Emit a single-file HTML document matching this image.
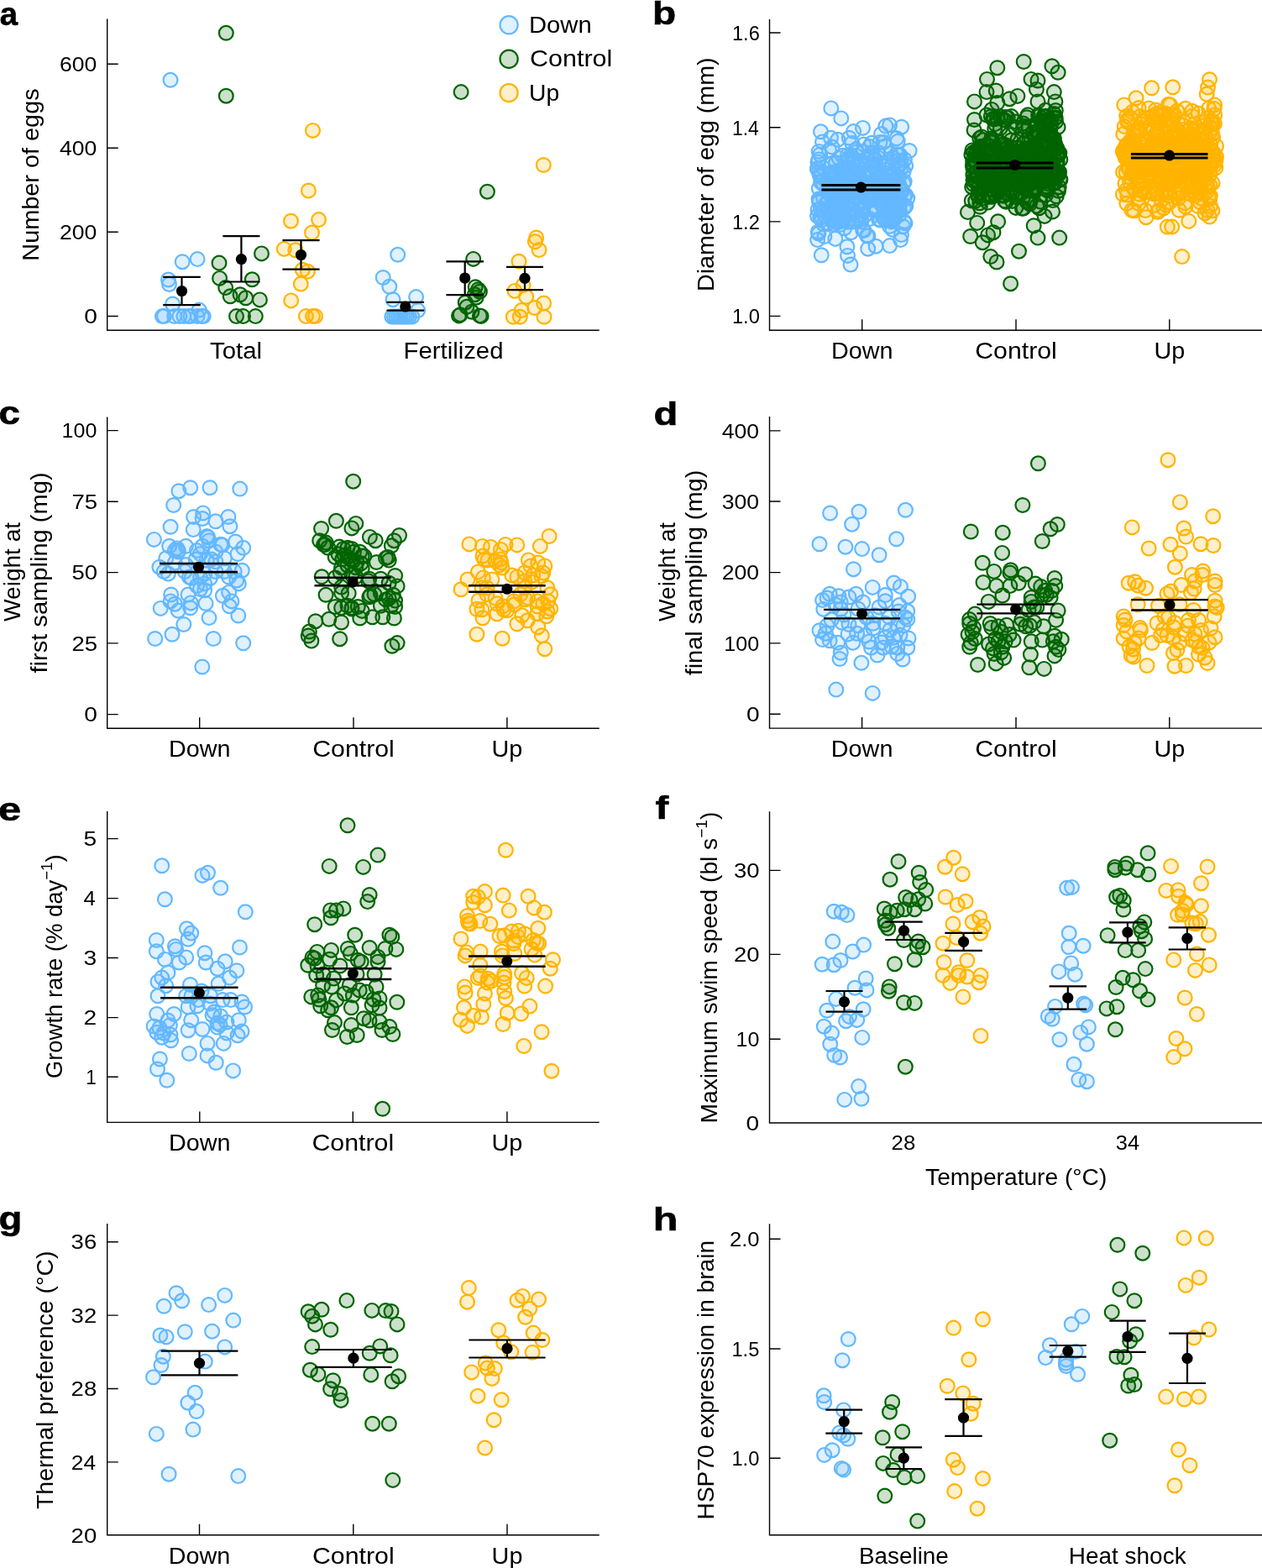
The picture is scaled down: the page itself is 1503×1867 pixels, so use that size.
<!DOCTYPE html><html><head><meta charset="utf-8"><title>Figure</title><style>
html,body{margin:0;padding:0;background:#fff;}svg{display:block;}
text{font-family:"Liberation Sans", Arial, sans-serif;fill:#000;}
.tk{font-size:24px;text-anchor:end;}
.xl{font-size:28px;text-anchor:middle;}
.xt{font-size:24px;text-anchor:middle;}
.yt{font-size:28px;text-anchor:middle;}
.pl{font-size:39px;font-weight:bold;stroke:#000;stroke-width:0.6px;}
.lg{font-size:27px;}
.ax{stroke:#000;stroke-width:1.4;fill:none;}
circle{stroke-width:2.2;}
.D circle{stroke:#63B8FF;fill:#63B8FF;fill-opacity:0.2;}
.C circle{stroke:#006400;fill:#006400;fill-opacity:0.2;}
.U circle{stroke:#FFB400;fill:#FFB400;fill-opacity:0.2;}
</style></head><body>
<svg width="1503" height="1867" viewBox="0 0 1503 1867">
<rect width="1503" height="1867" fill="#fff"/>
<text class="pl" transform="translate(-0.3 29.5) scale(0.981 1)">a</text>
<path class="ax" d="M127.7 22.4V393.2H713.7M127.7 376.5H140.7M127.7 276.3H140.7M127.7 176.3H140.7M127.7 76.2H140.7"/>
<text class="tk" transform="translate(115.8 385.2) scale(1.173 1)">0</text>
<text class="tk" transform="translate(115.3 285) scale(1.108 1)">200</text>
<text class="tk" transform="translate(115.3 185) scale(1.108 1)">400</text>
<text class="tk" transform="translate(115.3 84.9) scale(1.108 1)">600</text>
<text class="yt" transform="translate(46.2 208) rotate(-90) scale(1.031 1)">Number of eggs</text>
<text class="xl" transform="translate(281 427) scale(1.048 1)">Total</text>
<text class="xl" transform="translate(540 427) scale(1.048 1)">Fertilized</text>
<g class="D">
<circle cx="203" cy="95.3" r="8.4"/>
<circle cx="217.2" cy="311.7" r="8.4"/>
<circle cx="235.1" cy="308.6" r="8.4"/>
<circle cx="200.5" cy="333" r="8.4"/>
<circle cx="201.5" cy="338.5" r="8.4"/>
<circle cx="205.6" cy="362" r="8.4"/>
<circle cx="193.4" cy="376.6" r="8.4"/>
<circle cx="195.4" cy="376.6" r="8.4"/>
<circle cx="207.7" cy="376.6" r="8.4"/>
<circle cx="213.8" cy="376.6" r="8.4"/>
<circle cx="218.9" cy="376.6" r="8.4"/>
<circle cx="223.9" cy="376.6" r="8.4"/>
<circle cx="227" cy="376.6" r="8.4"/>
<circle cx="235.1" cy="376.6" r="8.4"/>
<circle cx="240.2" cy="376.6" r="8.4"/>
<circle cx="242.3" cy="376.6" r="8.4"/>
<circle cx="237.2" cy="369.1" r="8.4"/>
<circle cx="473.7" cy="303.3" r="8.4"/>
<circle cx="456.2" cy="330.5" r="8.4"/>
<circle cx="463.8" cy="341.3" r="8.4"/>
<circle cx="468" cy="356.7" r="8.4"/>
<circle cx="495.6" cy="353.6" r="8.4"/>
<circle cx="497.7" cy="369.6" r="8.4"/>
<circle cx="466.8" cy="377" r="8.4"/>
<circle cx="469.4" cy="377" r="8.4"/>
<circle cx="472" cy="377" r="8.4"/>
<circle cx="474.6" cy="377" r="8.4"/>
<circle cx="477.1" cy="377" r="8.4"/>
<circle cx="479.7" cy="377" r="8.4"/>
<circle cx="482.3" cy="377" r="8.4"/>
<circle cx="484.8" cy="377" r="8.4"/>
<circle cx="487.4" cy="377" r="8.4"/>
<circle cx="490.8" cy="377" r="8.4"/>
</g>
<g class="C">
<circle cx="269.3" cy="39.3" r="8.4"/>
<circle cx="269.3" cy="114.2" r="8.4"/>
<circle cx="311.5" cy="301.9" r="8.4"/>
<circle cx="261" cy="313.1" r="8.4"/>
<circle cx="261.6" cy="331.4" r="8.4"/>
<circle cx="300.3" cy="332.8" r="8.4"/>
<circle cx="268.7" cy="342.6" r="8.4"/>
<circle cx="274.2" cy="352.8" r="8.4"/>
<circle cx="286" cy="350.8" r="8.4"/>
<circle cx="292.7" cy="354.8" r="8.4"/>
<circle cx="309.4" cy="356.9" r="8.4"/>
<circle cx="281.5" cy="376.6" r="8.4"/>
<circle cx="289.5" cy="376.6" r="8.4"/>
<circle cx="304.3" cy="376.6" r="8.4"/>
<circle cx="549.1" cy="109.6" r="8.4"/>
<circle cx="580.4" cy="228.2" r="8.4"/>
<circle cx="563.7" cy="308.4" r="8.4"/>
<circle cx="566.2" cy="341.7" r="8.4"/>
<circle cx="569.6" cy="344.7" r="8.4"/>
<circle cx="571.4" cy="347.3" r="8.4"/>
<circle cx="565.4" cy="350.7" r="8.4"/>
<circle cx="567.1" cy="354.2" r="8.4"/>
<circle cx="554.2" cy="360.2" r="8.4"/>
<circle cx="555.9" cy="365.3" r="8.4"/>
<circle cx="561.9" cy="371.3" r="8.4"/>
<circle cx="546.5" cy="375.9" r="8.4"/>
<circle cx="548.2" cy="374.7" r="8.4"/>
<circle cx="571.4" cy="375.9" r="8.4"/>
<circle cx="573.1" cy="376.4" r="8.4"/>
</g>
<g class="U">
<circle cx="372.5" cy="155.4" r="8.4"/>
<circle cx="367.4" cy="227" r="8.4"/>
<circle cx="346.5" cy="263.2" r="8.4"/>
<circle cx="379.6" cy="261.6" r="8.4"/>
<circle cx="371.5" cy="277.1" r="8.4"/>
<circle cx="338.3" cy="296.4" r="8.4"/>
<circle cx="351.8" cy="297.8" r="8.4"/>
<circle cx="360.3" cy="321.2" r="8.4"/>
<circle cx="366.4" cy="323.3" r="8.4"/>
<circle cx="358.3" cy="338.1" r="8.4"/>
<circle cx="346.7" cy="357.9" r="8.4"/>
<circle cx="364.4" cy="376.6" r="8.4"/>
<circle cx="372.5" cy="376.6" r="8.4"/>
<circle cx="375.6" cy="376.6" r="8.4"/>
<circle cx="647.3" cy="196.5" r="8.4"/>
<circle cx="638.7" cy="283" r="8.4"/>
<circle cx="637.3" cy="287.8" r="8.4"/>
<circle cx="642" cy="297.6" r="8.4"/>
<circle cx="618" cy="311.3" r="8.4"/>
<circle cx="623.1" cy="339.6" r="8.4"/>
<circle cx="613" cy="346.4" r="8.4"/>
<circle cx="626.7" cy="353.3" r="8.4"/>
<circle cx="647.6" cy="361" r="8.4"/>
<circle cx="621.1" cy="369.6" r="8.4"/>
<circle cx="636.8" cy="366.5" r="8.4"/>
<circle cx="611.3" cy="377.3" r="8.4"/>
<circle cx="619.3" cy="377.3" r="8.4"/>
<circle cx="648" cy="377.3" r="8.4"/>
</g>
<g stroke="#000" stroke-width="2.2" fill="none">
<path d="M216.5 329.9V363.2M194.2 329.9H238.8M194.2 363.2H238.8"/>
<path d="M287.4 281.1V335.5M265.4 281.1H309.4M265.4 335.5H309.4"/>
<path d="M358.5 286.2V320.6M336.4 286.2H380.6M336.4 320.6H380.6"/>
<path d="M482.8 359.8V369.6M460.5 359.8H505.1M460.5 369.6H505.1"/>
<path d="M553.7 311.3V351.1M531.4 311.3H576M531.4 351.1H576"/>
<path d="M625 317.8V345.2M603 317.8H647M603 345.2H647"/>
</g><g fill="#000">
<circle cx="216.5" cy="346.5" r="6.6"/>
<circle cx="287.4" cy="308.6" r="6.6"/>
<circle cx="358.5" cy="303.5" r="6.6"/>
<circle cx="482.8" cy="365" r="6.6"/>
<circle cx="553.7" cy="331" r="6.6"/>
<circle cx="625" cy="331.4" r="6.6"/>
</g>
<g class="D"><circle cx="606.1" cy="29.8" r="10.6"/></g>
<g class="C"><circle cx="606.1" cy="70.2" r="10.6"/></g>
<g class="U"><circle cx="606.1" cy="110.6" r="10.6"/></g>
<text class="lg" transform="translate(630 39) scale(1.082 1)">Down</text>
<text class="lg" transform="translate(631.1 79.4) scale(1.129 1)">Control</text>
<text class="lg" transform="translate(630.1 119.8) scale(1.047 1)">Up</text>
<text class="pl" transform="translate(777 28.7) scale(1.184 1)">b</text>
<path class="ax" d="M916.5 22.9V393.3H1503M916.5 376.4H929.5M916.5 263.9H929.5M916.5 151.8H929.5M916.5 39H929.5M1026.7 393.3V380.3M1210 393.3V380.3M1392.8 393.3V380.3"/>
<text class="tk" transform="translate(904.8 385.1) scale(0.987 1)">1.0</text>
<text class="tk" transform="translate(904.8 272.6) scale(0.987 1)">1.2</text>
<text class="tk" transform="translate(903.8 160.5) scale(0.955 1)">1.4</text>
<text class="tk" transform="translate(904.8 47.7) scale(0.987 1)">1.6</text>
<text class="yt" transform="translate(850.2 207.7) rotate(-90) scale(1.024 1)">Diameter of egg (mm)</text>
<text class="xl" transform="translate(1026.7 427) scale(1.028 1)">Down</text>
<text class="xl" transform="translate(1210 427) scale(1.083 1)">Control</text>
<text class="xl" transform="translate(1392.8 427) scale(1.028 1)">Up</text>
<g class="D">
<circle cx="1054.7" cy="262.6" r="8.4"/>
<circle cx="1000.3" cy="267.5" r="8.4"/>
<circle cx="1042.7" cy="191.2" r="8.4"/>
<circle cx="1057.4" cy="224.9" r="8.4"/>
<circle cx="1062.4" cy="230" r="8.4"/>
<circle cx="1019.3" cy="228" r="8.4"/>
<circle cx="1020.7" cy="224.2" r="8.4"/>
<circle cx="1050.2" cy="222.1" r="8.4"/>
<circle cx="1069.5" cy="233.6" r="8.4"/>
<circle cx="1030.9" cy="230.7" r="8.4"/>
<circle cx="1073.5" cy="225.3" r="8.4"/>
<circle cx="1018.2" cy="208.6" r="8.4"/>
<circle cx="976.1" cy="238.2" r="8.4"/>
<circle cx="1026.1" cy="229.7" r="8.4"/>
<circle cx="997.9" cy="255.7" r="8.4"/>
<circle cx="1022.2" cy="226.5" r="8.4"/>
<circle cx="1004" cy="244.9" r="8.4"/>
<circle cx="1032.5" cy="280.7" r="8.4"/>
<circle cx="1041.7" cy="231.7" r="8.4"/>
<circle cx="1065" cy="260.8" r="8.4"/>
<circle cx="1050.2" cy="243.6" r="8.4"/>
<circle cx="1049.1" cy="242.6" r="8.4"/>
<circle cx="1061.8" cy="252.9" r="8.4"/>
<circle cx="1044.7" cy="211.8" r="8.4"/>
<circle cx="1067.4" cy="210.9" r="8.4"/>
<circle cx="1063.5" cy="261.7" r="8.4"/>
<circle cx="976.7" cy="184" r="8.4"/>
<circle cx="999" cy="222.7" r="8.4"/>
<circle cx="991.5" cy="233.1" r="8.4"/>
<circle cx="1031.7" cy="194.3" r="8.4"/>
<circle cx="1013.1" cy="210.9" r="8.4"/>
<circle cx="1020" cy="181" r="8.4"/>
<circle cx="1028.7" cy="172" r="8.4"/>
<circle cx="1015.1" cy="221.2" r="8.4"/>
<circle cx="977.7" cy="216.7" r="8.4"/>
<circle cx="1048.3" cy="224.5" r="8.4"/>
<circle cx="1015.1" cy="264" r="8.4"/>
<circle cx="991.2" cy="219.8" r="8.4"/>
<circle cx="1055.4" cy="222.8" r="8.4"/>
<circle cx="997.8" cy="166.3" r="8.4"/>
<circle cx="1028" cy="209.3" r="8.4"/>
<circle cx="1022.1" cy="261.7" r="8.4"/>
<circle cx="1001.8" cy="212.4" r="8.4"/>
<circle cx="973.6" cy="201.6" r="8.4"/>
<circle cx="1067.8" cy="235.7" r="8.4"/>
<circle cx="1052.2" cy="169.6" r="8.4"/>
<circle cx="1033.1" cy="237.2" r="8.4"/>
<circle cx="1018.6" cy="190.2" r="8.4"/>
<circle cx="1034" cy="280.9" r="8.4"/>
<circle cx="994.4" cy="244.9" r="8.4"/>
<circle cx="1011.2" cy="189.5" r="8.4"/>
<circle cx="1010" cy="223" r="8.4"/>
<circle cx="1038.5" cy="183.3" r="8.4"/>
<circle cx="1022" cy="214" r="8.4"/>
<circle cx="992" cy="245.3" r="8.4"/>
<circle cx="1035.5" cy="227.8" r="8.4"/>
<circle cx="1058.3" cy="258.5" r="8.4"/>
<circle cx="1060.4" cy="182.8" r="8.4"/>
<circle cx="1045" cy="222.1" r="8.4"/>
<circle cx="981.9" cy="281.6" r="8.4"/>
<circle cx="1053.8" cy="229.1" r="8.4"/>
<circle cx="999.7" cy="224.5" r="8.4"/>
<circle cx="1009.9" cy="256.5" r="8.4"/>
<circle cx="980.4" cy="250.7" r="8.4"/>
<circle cx="991" cy="243.8" r="8.4"/>
<circle cx="1002.2" cy="255" r="8.4"/>
<circle cx="1007.5" cy="216.1" r="8.4"/>
<circle cx="1023.7" cy="191.9" r="8.4"/>
<circle cx="1018" cy="253.3" r="8.4"/>
<circle cx="993.1" cy="228.4" r="8.4"/>
<circle cx="1027.6" cy="273.9" r="8.4"/>
<circle cx="995.4" cy="264.6" r="8.4"/>
<circle cx="975.2" cy="180.4" r="8.4"/>
<circle cx="974.9" cy="189.9" r="8.4"/>
<circle cx="990.1" cy="252.9" r="8.4"/>
<circle cx="1048.4" cy="262" r="8.4"/>
<circle cx="996.6" cy="207.6" r="8.4"/>
<circle cx="1077.4" cy="190.1" r="8.4"/>
<circle cx="996.9" cy="234.7" r="8.4"/>
<circle cx="1042.4" cy="189.4" r="8.4"/>
<circle cx="1007.4" cy="193" r="8.4"/>
<circle cx="1040.5" cy="248.1" r="8.4"/>
<circle cx="1076.6" cy="247.6" r="8.4"/>
<circle cx="1066.7" cy="233.1" r="8.4"/>
<circle cx="1006.2" cy="203.4" r="8.4"/>
<circle cx="1073.5" cy="279.6" r="8.4"/>
<circle cx="1000" cy="222.8" r="8.4"/>
<circle cx="973.9" cy="192.9" r="8.4"/>
<circle cx="1060.7" cy="230" r="8.4"/>
<circle cx="1076" cy="218.2" r="8.4"/>
<circle cx="1065.9" cy="207.4" r="8.4"/>
<circle cx="1077.2" cy="216.1" r="8.4"/>
<circle cx="1013.4" cy="213.8" r="8.4"/>
<circle cx="1010.1" cy="189.7" r="8.4"/>
<circle cx="1019.3" cy="236.3" r="8.4"/>
<circle cx="993.8" cy="267.2" r="8.4"/>
<circle cx="1004.7" cy="259.2" r="8.4"/>
<circle cx="1026.5" cy="251.1" r="8.4"/>
<circle cx="1069.3" cy="196.3" r="8.4"/>
<circle cx="974.9" cy="278.1" r="8.4"/>
<circle cx="1078.6" cy="232.1" r="8.4"/>
<circle cx="1056.7" cy="249.5" r="8.4"/>
<circle cx="1045.2" cy="213" r="8.4"/>
<circle cx="1062.6" cy="241.6" r="8.4"/>
<circle cx="1067.4" cy="249.1" r="8.4"/>
<circle cx="1046.5" cy="212.6" r="8.4"/>
<circle cx="998.1" cy="232.5" r="8.4"/>
<circle cx="991.2" cy="222.1" r="8.4"/>
<circle cx="1070.5" cy="211.5" r="8.4"/>
<circle cx="1037.2" cy="235.7" r="8.4"/>
<circle cx="1063" cy="273.3" r="8.4"/>
<circle cx="1004.2" cy="205.5" r="8.4"/>
<circle cx="1065.8" cy="244.2" r="8.4"/>
<circle cx="1067.9" cy="164.8" r="8.4"/>
<circle cx="987.5" cy="178.7" r="8.4"/>
<circle cx="977.2" cy="210.6" r="8.4"/>
<circle cx="980.8" cy="219.6" r="8.4"/>
<circle cx="1061.7" cy="259.2" r="8.4"/>
<circle cx="1009.5" cy="184.6" r="8.4"/>
<circle cx="1013.5" cy="184.8" r="8.4"/>
<circle cx="1034.1" cy="189.3" r="8.4"/>
<circle cx="1001.5" cy="226" r="8.4"/>
<circle cx="1068.3" cy="236.2" r="8.4"/>
<circle cx="1022" cy="197.1" r="8.4"/>
<circle cx="1061.6" cy="215" r="8.4"/>
<circle cx="974.3" cy="276" r="8.4"/>
<circle cx="985.3" cy="217.7" r="8.4"/>
<circle cx="1067.7" cy="212.5" r="8.4"/>
<circle cx="1078.7" cy="245.5" r="8.4"/>
<circle cx="1018" cy="229.5" r="8.4"/>
<circle cx="998.8" cy="237.6" r="8.4"/>
<circle cx="1052.6" cy="236.1" r="8.4"/>
<circle cx="1013.5" cy="276.7" r="8.4"/>
<circle cx="1076.8" cy="263.7" r="8.4"/>
<circle cx="1000.1" cy="245.1" r="8.4"/>
<circle cx="1024" cy="210.5" r="8.4"/>
<circle cx="977.2" cy="259.2" r="8.4"/>
<circle cx="974.1" cy="249.7" r="8.4"/>
<circle cx="1036.8" cy="249" r="8.4"/>
<circle cx="1021.1" cy="221.3" r="8.4"/>
<circle cx="1070.7" cy="219.8" r="8.4"/>
<circle cx="1076.8" cy="234" r="8.4"/>
<circle cx="996" cy="238.3" r="8.4"/>
<circle cx="1039.1" cy="221.3" r="8.4"/>
<circle cx="1046.6" cy="261.2" r="8.4"/>
<circle cx="1043.8" cy="219.3" r="8.4"/>
<circle cx="1005.9" cy="221.9" r="8.4"/>
<circle cx="999.4" cy="261.4" r="8.4"/>
<circle cx="1078.2" cy="245.2" r="8.4"/>
<circle cx="1020.9" cy="235.9" r="8.4"/>
<circle cx="1073.7" cy="199.1" r="8.4"/>
<circle cx="1014.8" cy="188.8" r="8.4"/>
<circle cx="1006.9" cy="214.7" r="8.4"/>
<circle cx="1063.6" cy="249" r="8.4"/>
<circle cx="1008.8" cy="244" r="8.4"/>
<circle cx="1031.2" cy="208.2" r="8.4"/>
<circle cx="999.2" cy="188.5" r="8.4"/>
<circle cx="975.2" cy="204.8" r="8.4"/>
<circle cx="1032" cy="224.5" r="8.4"/>
<circle cx="980.6" cy="235.6" r="8.4"/>
<circle cx="1004.1" cy="262" r="8.4"/>
<circle cx="1057.8" cy="243.4" r="8.4"/>
<circle cx="989.5" cy="164.3" r="8.4"/>
<circle cx="1026.7" cy="226.5" r="8.4"/>
<circle cx="1074.6" cy="227.4" r="8.4"/>
<circle cx="991.5" cy="212.5" r="8.4"/>
<circle cx="1060.9" cy="238.2" r="8.4"/>
<circle cx="1028" cy="217.9" r="8.4"/>
<circle cx="1071.4" cy="236.9" r="8.4"/>
<circle cx="988.2" cy="206.9" r="8.4"/>
<circle cx="1006.8" cy="230.4" r="8.4"/>
<circle cx="1069.6" cy="219.9" r="8.4"/>
<circle cx="1063" cy="245.7" r="8.4"/>
<circle cx="992.1" cy="222.9" r="8.4"/>
<circle cx="1019.3" cy="178.1" r="8.4"/>
<circle cx="1044.5" cy="250" r="8.4"/>
<circle cx="1000" cy="263.8" r="8.4"/>
<circle cx="1059.5" cy="254.4" r="8.4"/>
<circle cx="1064.1" cy="188.3" r="8.4"/>
<circle cx="1021.5" cy="212.6" r="8.4"/>
<circle cx="1000.6" cy="202.4" r="8.4"/>
<circle cx="975.6" cy="240.6" r="8.4"/>
<circle cx="1034.1" cy="205.1" r="8.4"/>
<circle cx="979.7" cy="199.2" r="8.4"/>
<circle cx="986.4" cy="214" r="8.4"/>
<circle cx="1000.7" cy="236.9" r="8.4"/>
<circle cx="1015.9" cy="238.4" r="8.4"/>
<circle cx="1038.5" cy="197.4" r="8.4"/>
<circle cx="1029.6" cy="224.4" r="8.4"/>
<circle cx="1026.6" cy="227.7" r="8.4"/>
<circle cx="1046.5" cy="204.9" r="8.4"/>
<circle cx="1051.3" cy="198.1" r="8.4"/>
<circle cx="1024.2" cy="226.6" r="8.4"/>
<circle cx="997.1" cy="259" r="8.4"/>
<circle cx="1070" cy="191.2" r="8.4"/>
<circle cx="1071.2" cy="244.1" r="8.4"/>
<circle cx="978.2" cy="217.2" r="8.4"/>
<circle cx="980.7" cy="266.7" r="8.4"/>
<circle cx="990.1" cy="219.5" r="8.4"/>
<circle cx="1006.4" cy="230.2" r="8.4"/>
<circle cx="1012.8" cy="203.4" r="8.4"/>
<circle cx="1048" cy="169.4" r="8.4"/>
<circle cx="1064.6" cy="220.6" r="8.4"/>
<circle cx="1068.9" cy="183.8" r="8.4"/>
<circle cx="991.9" cy="261.8" r="8.4"/>
<circle cx="999.8" cy="214.3" r="8.4"/>
<circle cx="1054.1" cy="231.9" r="8.4"/>
<circle cx="978.6" cy="262.1" r="8.4"/>
<circle cx="1010.2" cy="204.1" r="8.4"/>
<circle cx="1028.1" cy="180.7" r="8.4"/>
<circle cx="977.4" cy="248.8" r="8.4"/>
<circle cx="1078" cy="265.7" r="8.4"/>
<circle cx="1001.6" cy="239" r="8.4"/>
<circle cx="1070.7" cy="184.6" r="8.4"/>
<circle cx="1056" cy="239.9" r="8.4"/>
<circle cx="1063.1" cy="219.9" r="8.4"/>
<circle cx="1020.6" cy="199" r="8.4"/>
<circle cx="1071.9" cy="184.7" r="8.4"/>
<circle cx="1058.9" cy="253" r="8.4"/>
<circle cx="1019.3" cy="218.7" r="8.4"/>
<circle cx="986.5" cy="237.6" r="8.4"/>
<circle cx="1070.3" cy="246.9" r="8.4"/>
<circle cx="1037.3" cy="238.6" r="8.4"/>
<circle cx="1016.7" cy="220.2" r="8.4"/>
<circle cx="999.6" cy="242.5" r="8.4"/>
<circle cx="1053.2" cy="241" r="8.4"/>
<circle cx="1019.9" cy="243.5" r="8.4"/>
<circle cx="975.3" cy="224.5" r="8.4"/>
<circle cx="1062.4" cy="195.5" r="8.4"/>
<circle cx="995.1" cy="194.6" r="8.4"/>
<circle cx="1002.2" cy="215.9" r="8.4"/>
<circle cx="1035.7" cy="260.6" r="8.4"/>
<circle cx="1057.6" cy="223.7" r="8.4"/>
<circle cx="1059.5" cy="269.5" r="8.4"/>
<circle cx="1025.5" cy="261.2" r="8.4"/>
<circle cx="1064.6" cy="217.8" r="8.4"/>
<circle cx="1014" cy="228.7" r="8.4"/>
<circle cx="1003.4" cy="185.3" r="8.4"/>
<circle cx="985.6" cy="266.4" r="8.4"/>
<circle cx="1053" cy="258.2" r="8.4"/>
<circle cx="1054.4" cy="202.2" r="8.4"/>
<circle cx="1026.5" cy="240" r="8.4"/>
<circle cx="1034.3" cy="221.3" r="8.4"/>
<circle cx="1011.2" cy="210.7" r="8.4"/>
<circle cx="1029.5" cy="256.9" r="8.4"/>
<circle cx="1021.1" cy="256.4" r="8.4"/>
<circle cx="1005.6" cy="224.2" r="8.4"/>
<circle cx="1046.1" cy="181.7" r="8.4"/>
<circle cx="1025.7" cy="255" r="8.4"/>
<circle cx="994.8" cy="206.5" r="8.4"/>
<circle cx="973.4" cy="200.6" r="8.4"/>
<circle cx="1067.3" cy="217" r="8.4"/>
<circle cx="1061.7" cy="263.9" r="8.4"/>
<circle cx="1022.4" cy="217.9" r="8.4"/>
<circle cx="1052.7" cy="239.6" r="8.4"/>
<circle cx="1078.7" cy="197.5" r="8.4"/>
<circle cx="1039.3" cy="217.8" r="8.4"/>
<circle cx="1029.8" cy="241.2" r="8.4"/>
<circle cx="1014.6" cy="222.4" r="8.4"/>
<circle cx="1018.6" cy="225.9" r="8.4"/>
<circle cx="1035.5" cy="174.6" r="8.4"/>
<circle cx="1051.5" cy="257.4" r="8.4"/>
<circle cx="1025.7" cy="264" r="8.4"/>
<circle cx="1052.8" cy="194.2" r="8.4"/>
<circle cx="1040.4" cy="196.4" r="8.4"/>
<circle cx="1016.5" cy="190.5" r="8.4"/>
<circle cx="1073.3" cy="194.8" r="8.4"/>
<circle cx="1056.7" cy="193.1" r="8.4"/>
<circle cx="1060.2" cy="253.1" r="8.4"/>
<circle cx="1037.8" cy="181.8" r="8.4"/>
<circle cx="1048.8" cy="210.2" r="8.4"/>
<circle cx="1066.5" cy="243.1" r="8.4"/>
<circle cx="1062.1" cy="207.4" r="8.4"/>
<circle cx="1024.8" cy="219.3" r="8.4"/>
<circle cx="1027.6" cy="215.1" r="8.4"/>
<circle cx="1052.7" cy="225.9" r="8.4"/>
<circle cx="1043.3" cy="199.2" r="8.4"/>
<circle cx="975.1" cy="237.1" r="8.4"/>
<circle cx="1046.9" cy="220.7" r="8.4"/>
<circle cx="1037.7" cy="186.6" r="8.4"/>
<circle cx="995.4" cy="250.5" r="8.4"/>
<circle cx="1001.8" cy="240.4" r="8.4"/>
<circle cx="1029" cy="274.4" r="8.4"/>
<circle cx="1012.4" cy="249.6" r="8.4"/>
<circle cx="991" cy="175.1" r="8.4"/>
<circle cx="1042.9" cy="220.5" r="8.4"/>
<circle cx="1001.9" cy="211.5" r="8.4"/>
<circle cx="1038.2" cy="170.3" r="8.4"/>
<circle cx="991.4" cy="228.3" r="8.4"/>
<circle cx="1057.5" cy="262.3" r="8.4"/>
<circle cx="996.8" cy="242" r="8.4"/>
<circle cx="1076.1" cy="204.1" r="8.4"/>
<circle cx="976.3" cy="208.5" r="8.4"/>
<circle cx="1069.2" cy="168.3" r="8.4"/>
<circle cx="1019.2" cy="205.2" r="8.4"/>
<circle cx="1054.5" cy="205.8" r="8.4"/>
<circle cx="1040" cy="228.3" r="8.4"/>
<circle cx="990.7" cy="205" r="8.4"/>
<circle cx="1070.7" cy="256" r="8.4"/>
<circle cx="1050.9" cy="218.5" r="8.4"/>
<circle cx="1029.3" cy="205.6" r="8.4"/>
<circle cx="987.8" cy="209.5" r="8.4"/>
<circle cx="1011.6" cy="254.8" r="8.4"/>
<circle cx="1053.4" cy="260.3" r="8.4"/>
<circle cx="1049.9" cy="226.9" r="8.4"/>
<circle cx="1005.7" cy="271.7" r="8.4"/>
<circle cx="1025.7" cy="247.7" r="8.4"/>
<circle cx="983.7" cy="242.7" r="8.4"/>
<circle cx="1036.9" cy="227.9" r="8.4"/>
<circle cx="1068.1" cy="233.3" r="8.4"/>
<circle cx="1048.3" cy="225.7" r="8.4"/>
<circle cx="1060.2" cy="231.8" r="8.4"/>
<circle cx="1009.6" cy="264.3" r="8.4"/>
<circle cx="1062.7" cy="214.8" r="8.4"/>
<circle cx="983.2" cy="258" r="8.4"/>
<circle cx="1015.8" cy="255.1" r="8.4"/>
<circle cx="991" cy="194.8" r="8.4"/>
<circle cx="997.8" cy="224.9" r="8.4"/>
<circle cx="1035.1" cy="238.3" r="8.4"/>
<circle cx="995.7" cy="193.8" r="8.4"/>
<circle cx="1036.5" cy="218.1" r="8.4"/>
<circle cx="1070.3" cy="197.8" r="8.4"/>
<circle cx="1058.3" cy="233.2" r="8.4"/>
<circle cx="1064.8" cy="223.7" r="8.4"/>
<circle cx="1035.1" cy="211.5" r="8.4"/>
<circle cx="1071.3" cy="250.7" r="8.4"/>
<circle cx="1054.2" cy="174" r="8.4"/>
<circle cx="989.3" cy="260.3" r="8.4"/>
<circle cx="988.5" cy="228.5" r="8.4"/>
<circle cx="1044.1" cy="221.3" r="8.4"/>
<circle cx="986.9" cy="251.4" r="8.4"/>
<circle cx="1022.5" cy="234.3" r="8.4"/>
<circle cx="976.8" cy="259" r="8.4"/>
<circle cx="979.5" cy="168.9" r="8.4"/>
<circle cx="1002.3" cy="228.8" r="8.4"/>
<circle cx="985.6" cy="216.5" r="8.4"/>
<circle cx="1041.2" cy="230" r="8.4"/>
<circle cx="1052.7" cy="227.8" r="8.4"/>
<circle cx="1043.9" cy="201.6" r="8.4"/>
<circle cx="1014.7" cy="170.5" r="8.4"/>
<circle cx="989.8" cy="128.9" r="8.4"/>
<circle cx="1001.8" cy="140.9" r="8.4"/>
<circle cx="977.5" cy="156.8" r="8.4"/>
<circle cx="1016.6" cy="156.5" r="8.4"/>
<circle cx="1027.5" cy="152.4" r="8.4"/>
<circle cx="1011.3" cy="164.2" r="8.4"/>
<circle cx="1054.9" cy="150.1" r="8.4"/>
<circle cx="1059.6" cy="148.9" r="8.4"/>
<circle cx="1073.7" cy="151.2" r="8.4"/>
<circle cx="1049.6" cy="159.5" r="8.4"/>
<circle cx="973.6" cy="285.6" r="8.4"/>
<circle cx="978.3" cy="303.8" r="8.4"/>
<circle cx="1009.5" cy="304.4" r="8.4"/>
<circle cx="1013" cy="315" r="8.4"/>
<circle cx="1008.9" cy="293.8" r="8.4"/>
<circle cx="1033.7" cy="296.2" r="8.4"/>
<circle cx="1043.1" cy="293.2" r="8.4"/>
<circle cx="1059.6" cy="292.6" r="8.4"/>
<circle cx="1072.5" cy="285.6" r="8.4"/>
<circle cx="1075.5" cy="269.7" r="8.4"/>
<circle cx="994.8" cy="284.4" r="8.4"/>
<circle cx="973.6" cy="257.3" r="8.4"/>
<circle cx="1080.8" cy="236.1" r="8.4"/>
<circle cx="1083.1" cy="179.5" r="8.4"/>
</g>
<g class="C">
<circle cx="1162.1" cy="183.1" r="8.4"/>
<circle cx="1234.7" cy="245.2" r="8.4"/>
<circle cx="1227.7" cy="227.1" r="8.4"/>
<circle cx="1220.9" cy="187.8" r="8.4"/>
<circle cx="1218.2" cy="235.4" r="8.4"/>
<circle cx="1198.1" cy="216.6" r="8.4"/>
<circle cx="1233.4" cy="225" r="8.4"/>
<circle cx="1214.2" cy="198.9" r="8.4"/>
<circle cx="1159.8" cy="180.9" r="8.4"/>
<circle cx="1158.9" cy="208.2" r="8.4"/>
<circle cx="1196.7" cy="177.9" r="8.4"/>
<circle cx="1251.4" cy="206.2" r="8.4"/>
<circle cx="1181.3" cy="166.8" r="8.4"/>
<circle cx="1158.6" cy="195.4" r="8.4"/>
<circle cx="1210.6" cy="194.3" r="8.4"/>
<circle cx="1262.9" cy="214" r="8.4"/>
<circle cx="1251.6" cy="193.2" r="8.4"/>
<circle cx="1241.3" cy="185.8" r="8.4"/>
<circle cx="1237.6" cy="195.2" r="8.4"/>
<circle cx="1261" cy="207.2" r="8.4"/>
<circle cx="1258.9" cy="176.6" r="8.4"/>
<circle cx="1232.5" cy="224.9" r="8.4"/>
<circle cx="1205.4" cy="239.4" r="8.4"/>
<circle cx="1255" cy="170.2" r="8.4"/>
<circle cx="1209.6" cy="195.1" r="8.4"/>
<circle cx="1250.5" cy="213.4" r="8.4"/>
<circle cx="1252.3" cy="179" r="8.4"/>
<circle cx="1254.5" cy="167.1" r="8.4"/>
<circle cx="1233.4" cy="209.5" r="8.4"/>
<circle cx="1190.7" cy="181.9" r="8.4"/>
<circle cx="1230.9" cy="202.6" r="8.4"/>
<circle cx="1184.7" cy="230.7" r="8.4"/>
<circle cx="1253.5" cy="252" r="8.4"/>
<circle cx="1231.6" cy="176.2" r="8.4"/>
<circle cx="1225.7" cy="168.4" r="8.4"/>
<circle cx="1218.9" cy="200.1" r="8.4"/>
<circle cx="1210.8" cy="194" r="8.4"/>
<circle cx="1256" cy="218.1" r="8.4"/>
<circle cx="1243.8" cy="193.4" r="8.4"/>
<circle cx="1233.7" cy="193.5" r="8.4"/>
<circle cx="1235.7" cy="215.7" r="8.4"/>
<circle cx="1162.3" cy="191.4" r="8.4"/>
<circle cx="1180.2" cy="188.6" r="8.4"/>
<circle cx="1249.7" cy="183.3" r="8.4"/>
<circle cx="1247.4" cy="226.8" r="8.4"/>
<circle cx="1182.2" cy="221.3" r="8.4"/>
<circle cx="1201.3" cy="214.7" r="8.4"/>
<circle cx="1194.8" cy="199.6" r="8.4"/>
<circle cx="1174.4" cy="194.3" r="8.4"/>
<circle cx="1258.1" cy="195.8" r="8.4"/>
<circle cx="1158.7" cy="191.1" r="8.4"/>
<circle cx="1183.4" cy="200.3" r="8.4"/>
<circle cx="1243" cy="195.5" r="8.4"/>
<circle cx="1230" cy="210.5" r="8.4"/>
<circle cx="1197.3" cy="215.4" r="8.4"/>
<circle cx="1172.2" cy="223" r="8.4"/>
<circle cx="1221.8" cy="225.2" r="8.4"/>
<circle cx="1235.4" cy="206.6" r="8.4"/>
<circle cx="1159.3" cy="219.6" r="8.4"/>
<circle cx="1204" cy="217" r="8.4"/>
<circle cx="1252.5" cy="205.4" r="8.4"/>
<circle cx="1236.9" cy="156.9" r="8.4"/>
<circle cx="1206.6" cy="228.4" r="8.4"/>
<circle cx="1180.1" cy="168.9" r="8.4"/>
<circle cx="1166.9" cy="188.5" r="8.4"/>
<circle cx="1203.9" cy="181.1" r="8.4"/>
<circle cx="1218.6" cy="211" r="8.4"/>
<circle cx="1198" cy="191" r="8.4"/>
<circle cx="1258.7" cy="186" r="8.4"/>
<circle cx="1183.7" cy="199.6" r="8.4"/>
<circle cx="1157.9" cy="178.9" r="8.4"/>
<circle cx="1215.7" cy="183.6" r="8.4"/>
<circle cx="1159.6" cy="206.9" r="8.4"/>
<circle cx="1173.2" cy="208.1" r="8.4"/>
<circle cx="1210.4" cy="232.6" r="8.4"/>
<circle cx="1261.2" cy="222.7" r="8.4"/>
<circle cx="1180.9" cy="166" r="8.4"/>
<circle cx="1219.3" cy="181.7" r="8.4"/>
<circle cx="1222.8" cy="208" r="8.4"/>
<circle cx="1183.5" cy="214.2" r="8.4"/>
<circle cx="1201.3" cy="160.6" r="8.4"/>
<circle cx="1159.8" cy="198.4" r="8.4"/>
<circle cx="1199.7" cy="200.6" r="8.4"/>
<circle cx="1181.8" cy="234.2" r="8.4"/>
<circle cx="1166.7" cy="228.9" r="8.4"/>
<circle cx="1179.3" cy="209.1" r="8.4"/>
<circle cx="1211.7" cy="218.8" r="8.4"/>
<circle cx="1224.7" cy="178.3" r="8.4"/>
<circle cx="1178.7" cy="206.2" r="8.4"/>
<circle cx="1234" cy="162.6" r="8.4"/>
<circle cx="1218.2" cy="171.4" r="8.4"/>
<circle cx="1161.5" cy="214.1" r="8.4"/>
<circle cx="1175.4" cy="172.3" r="8.4"/>
<circle cx="1166" cy="217.2" r="8.4"/>
<circle cx="1211.6" cy="209.4" r="8.4"/>
<circle cx="1254.6" cy="176.6" r="8.4"/>
<circle cx="1261.2" cy="183.8" r="8.4"/>
<circle cx="1195.8" cy="186.7" r="8.4"/>
<circle cx="1166.8" cy="241.8" r="8.4"/>
<circle cx="1188.7" cy="205.9" r="8.4"/>
<circle cx="1157.7" cy="222.7" r="8.4"/>
<circle cx="1204.3" cy="167" r="8.4"/>
<circle cx="1178.3" cy="174.6" r="8.4"/>
<circle cx="1219" cy="217.6" r="8.4"/>
<circle cx="1195.9" cy="220.8" r="8.4"/>
<circle cx="1256.1" cy="210.9" r="8.4"/>
<circle cx="1176.6" cy="241.1" r="8.4"/>
<circle cx="1217.2" cy="221.9" r="8.4"/>
<circle cx="1236.6" cy="177.6" r="8.4"/>
<circle cx="1198.3" cy="219.9" r="8.4"/>
<circle cx="1164.6" cy="210.9" r="8.4"/>
<circle cx="1247" cy="210.5" r="8.4"/>
<circle cx="1230.1" cy="157.7" r="8.4"/>
<circle cx="1239.2" cy="240.1" r="8.4"/>
<circle cx="1233.4" cy="207.1" r="8.4"/>
<circle cx="1204.9" cy="175.6" r="8.4"/>
<circle cx="1241.5" cy="201.3" r="8.4"/>
<circle cx="1207.1" cy="197.1" r="8.4"/>
<circle cx="1258.2" cy="233.8" r="8.4"/>
<circle cx="1245.5" cy="222" r="8.4"/>
<circle cx="1208.3" cy="195.3" r="8.4"/>
<circle cx="1183.8" cy="219.8" r="8.4"/>
<circle cx="1254.3" cy="164.4" r="8.4"/>
<circle cx="1218.7" cy="218.9" r="8.4"/>
<circle cx="1194.1" cy="206" r="8.4"/>
<circle cx="1262.8" cy="190" r="8.4"/>
<circle cx="1163.2" cy="218" r="8.4"/>
<circle cx="1165.2" cy="223.3" r="8.4"/>
<circle cx="1225.3" cy="151.7" r="8.4"/>
<circle cx="1180.8" cy="216.7" r="8.4"/>
<circle cx="1227.8" cy="217.4" r="8.4"/>
<circle cx="1212.1" cy="188.8" r="8.4"/>
<circle cx="1168" cy="174.7" r="8.4"/>
<circle cx="1236.9" cy="184.2" r="8.4"/>
<circle cx="1232.5" cy="227.8" r="8.4"/>
<circle cx="1183.5" cy="219.5" r="8.4"/>
<circle cx="1231.2" cy="224.7" r="8.4"/>
<circle cx="1199.2" cy="182.6" r="8.4"/>
<circle cx="1217.4" cy="248.2" r="8.4"/>
<circle cx="1171.5" cy="199.6" r="8.4"/>
<circle cx="1219.7" cy="194.9" r="8.4"/>
<circle cx="1250.4" cy="203.4" r="8.4"/>
<circle cx="1207.6" cy="214.7" r="8.4"/>
<circle cx="1199.3" cy="230.2" r="8.4"/>
<circle cx="1231.5" cy="185.4" r="8.4"/>
<circle cx="1191.4" cy="212.9" r="8.4"/>
<circle cx="1237.5" cy="199.9" r="8.4"/>
<circle cx="1247.2" cy="161.4" r="8.4"/>
<circle cx="1199.1" cy="206.9" r="8.4"/>
<circle cx="1227.4" cy="238.2" r="8.4"/>
<circle cx="1157.2" cy="238.9" r="8.4"/>
<circle cx="1205.7" cy="195.5" r="8.4"/>
<circle cx="1225.6" cy="187.6" r="8.4"/>
<circle cx="1256.9" cy="203" r="8.4"/>
<circle cx="1234.1" cy="196.4" r="8.4"/>
<circle cx="1250.7" cy="155" r="8.4"/>
<circle cx="1166.7" cy="164.6" r="8.4"/>
<circle cx="1177.4" cy="219.5" r="8.4"/>
<circle cx="1235.6" cy="158.8" r="8.4"/>
<circle cx="1242" cy="185.9" r="8.4"/>
<circle cx="1170.8" cy="191.9" r="8.4"/>
<circle cx="1183.1" cy="179.1" r="8.4"/>
<circle cx="1216.6" cy="182.3" r="8.4"/>
<circle cx="1259.4" cy="183.1" r="8.4"/>
<circle cx="1163.8" cy="204.8" r="8.4"/>
<circle cx="1245.6" cy="232.1" r="8.4"/>
<circle cx="1226.4" cy="201.6" r="8.4"/>
<circle cx="1228.2" cy="201.9" r="8.4"/>
<circle cx="1191.8" cy="169.9" r="8.4"/>
<circle cx="1158.9" cy="197.6" r="8.4"/>
<circle cx="1164.5" cy="232.7" r="8.4"/>
<circle cx="1236.3" cy="201.4" r="8.4"/>
<circle cx="1239.9" cy="184.3" r="8.4"/>
<circle cx="1240.3" cy="167.6" r="8.4"/>
<circle cx="1248.5" cy="223.9" r="8.4"/>
<circle cx="1196.8" cy="211.6" r="8.4"/>
<circle cx="1205.7" cy="213.1" r="8.4"/>
<circle cx="1215.6" cy="199.9" r="8.4"/>
<circle cx="1259.5" cy="204.8" r="8.4"/>
<circle cx="1196.9" cy="178.6" r="8.4"/>
<circle cx="1203.4" cy="226" r="8.4"/>
<circle cx="1225.4" cy="216.9" r="8.4"/>
<circle cx="1207.8" cy="184.1" r="8.4"/>
<circle cx="1164.2" cy="186.6" r="8.4"/>
<circle cx="1225.2" cy="211.4" r="8.4"/>
<circle cx="1241.2" cy="180.5" r="8.4"/>
<circle cx="1246" cy="185.6" r="8.4"/>
<circle cx="1165.9" cy="178.8" r="8.4"/>
<circle cx="1212.8" cy="183" r="8.4"/>
<circle cx="1247.1" cy="181" r="8.4"/>
<circle cx="1189" cy="212.3" r="8.4"/>
<circle cx="1180.9" cy="164.7" r="8.4"/>
<circle cx="1185.7" cy="182.1" r="8.4"/>
<circle cx="1258.5" cy="206.2" r="8.4"/>
<circle cx="1196.6" cy="239" r="8.4"/>
<circle cx="1195" cy="233.3" r="8.4"/>
<circle cx="1204.9" cy="196.5" r="8.4"/>
<circle cx="1173.8" cy="210.9" r="8.4"/>
<circle cx="1251.7" cy="180" r="8.4"/>
<circle cx="1254.6" cy="209" r="8.4"/>
<circle cx="1255.5" cy="165" r="8.4"/>
<circle cx="1190.9" cy="214.7" r="8.4"/>
<circle cx="1176.3" cy="217.1" r="8.4"/>
<circle cx="1228.6" cy="212.7" r="8.4"/>
<circle cx="1241.1" cy="183.2" r="8.4"/>
<circle cx="1180.9" cy="219" r="8.4"/>
<circle cx="1198.8" cy="214.7" r="8.4"/>
<circle cx="1244.1" cy="165.3" r="8.4"/>
<circle cx="1255.1" cy="170.6" r="8.4"/>
<circle cx="1209.8" cy="247.4" r="8.4"/>
<circle cx="1235.5" cy="176.8" r="8.4"/>
<circle cx="1256.1" cy="201.3" r="8.4"/>
<circle cx="1187.2" cy="202.7" r="8.4"/>
<circle cx="1195.3" cy="172.1" r="8.4"/>
<circle cx="1198.3" cy="173" r="8.4"/>
<circle cx="1193.9" cy="231.9" r="8.4"/>
<circle cx="1176" cy="209.4" r="8.4"/>
<circle cx="1159" cy="214.6" r="8.4"/>
<circle cx="1193.5" cy="197.6" r="8.4"/>
<circle cx="1250.5" cy="162.8" r="8.4"/>
<circle cx="1237.5" cy="247.7" r="8.4"/>
<circle cx="1181.3" cy="169.9" r="8.4"/>
<circle cx="1245.2" cy="214.1" r="8.4"/>
<circle cx="1224.2" cy="184" r="8.4"/>
<circle cx="1172.1" cy="215.1" r="8.4"/>
<circle cx="1166.2" cy="176" r="8.4"/>
<circle cx="1182.9" cy="212.4" r="8.4"/>
<circle cx="1201" cy="215.2" r="8.4"/>
<circle cx="1182.4" cy="201" r="8.4"/>
<circle cx="1181.7" cy="225.7" r="8.4"/>
<circle cx="1195.9" cy="182.2" r="8.4"/>
<circle cx="1238.2" cy="185.3" r="8.4"/>
<circle cx="1247" cy="214.9" r="8.4"/>
<circle cx="1202" cy="206.7" r="8.4"/>
<circle cx="1212" cy="203.6" r="8.4"/>
<circle cx="1246.5" cy="186.8" r="8.4"/>
<circle cx="1221.3" cy="176.7" r="8.4"/>
<circle cx="1198.2" cy="240.3" r="8.4"/>
<circle cx="1206.7" cy="227.9" r="8.4"/>
<circle cx="1222.3" cy="200.6" r="8.4"/>
<circle cx="1219.9" cy="180" r="8.4"/>
<circle cx="1218.9" cy="248" r="8.4"/>
<circle cx="1261.8" cy="182.2" r="8.4"/>
<circle cx="1200.1" cy="217.1" r="8.4"/>
<circle cx="1212.2" cy="176" r="8.4"/>
<circle cx="1262.5" cy="213.4" r="8.4"/>
<circle cx="1169.7" cy="204.7" r="8.4"/>
<circle cx="1253.9" cy="238.6" r="8.4"/>
<circle cx="1164.3" cy="185.4" r="8.4"/>
<circle cx="1156.9" cy="184.4" r="8.4"/>
<circle cx="1167.3" cy="246.3" r="8.4"/>
<circle cx="1171.7" cy="191.2" r="8.4"/>
<circle cx="1227.7" cy="214.4" r="8.4"/>
<circle cx="1225.5" cy="240.3" r="8.4"/>
<circle cx="1181.8" cy="218.8" r="8.4"/>
<circle cx="1170.8" cy="166.7" r="8.4"/>
<circle cx="1209.7" cy="205" r="8.4"/>
<circle cx="1254.3" cy="217.7" r="8.4"/>
<circle cx="1244" cy="207.7" r="8.4"/>
<circle cx="1249.7" cy="160.6" r="8.4"/>
<circle cx="1171" cy="195.1" r="8.4"/>
<circle cx="1168.5" cy="186.7" r="8.4"/>
<circle cx="1167.6" cy="201.7" r="8.4"/>
<circle cx="1179" cy="203.1" r="8.4"/>
<circle cx="1196.6" cy="209.7" r="8.4"/>
<circle cx="1252.7" cy="162.7" r="8.4"/>
<circle cx="1232.8" cy="163.8" r="8.4"/>
<circle cx="1173.4" cy="198.3" r="8.4"/>
<circle cx="1223.1" cy="240.3" r="8.4"/>
<circle cx="1178.5" cy="231.6" r="8.4"/>
<circle cx="1202.1" cy="184.7" r="8.4"/>
<circle cx="1201.8" cy="216.8" r="8.4"/>
<circle cx="1242.8" cy="162.3" r="8.4"/>
<circle cx="1216.2" cy="229.8" r="8.4"/>
<circle cx="1237.9" cy="179.2" r="8.4"/>
<circle cx="1261.6" cy="204.8" r="8.4"/>
<circle cx="1230.8" cy="206.5" r="8.4"/>
<circle cx="1226.4" cy="242.7" r="8.4"/>
<circle cx="1177.6" cy="234.6" r="8.4"/>
<circle cx="1176.8" cy="207.5" r="8.4"/>
<circle cx="1222.9" cy="166.9" r="8.4"/>
<circle cx="1235.4" cy="182.3" r="8.4"/>
<circle cx="1161.1" cy="192" r="8.4"/>
<circle cx="1238.6" cy="171.7" r="8.4"/>
<circle cx="1220" cy="223.7" r="8.4"/>
<circle cx="1160.1" cy="155" r="8.4"/>
<circle cx="1224" cy="205.3" r="8.4"/>
<circle cx="1214.2" cy="213.2" r="8.4"/>
<circle cx="1260.6" cy="227.2" r="8.4"/>
<circle cx="1187.2" cy="225.3" r="8.4"/>
<circle cx="1178.3" cy="183.2" r="8.4"/>
<circle cx="1185.7" cy="219.8" r="8.4"/>
<circle cx="1252.6" cy="163.5" r="8.4"/>
<circle cx="1200.5" cy="175.7" r="8.4"/>
<circle cx="1233.1" cy="189.3" r="8.4"/>
<circle cx="1169.1" cy="162.9" r="8.4"/>
<circle cx="1231.1" cy="212" r="8.4"/>
<circle cx="1178.9" cy="192.7" r="8.4"/>
<circle cx="1198" cy="184.2" r="8.4"/>
<circle cx="1212.2" cy="230.1" r="8.4"/>
<circle cx="1238.6" cy="217.1" r="8.4"/>
<circle cx="1230.2" cy="192.7" r="8.4"/>
<circle cx="1204.6" cy="207.6" r="8.4"/>
<circle cx="1193" cy="172.3" r="8.4"/>
<circle cx="1176.4" cy="180.6" r="8.4"/>
<circle cx="1206.9" cy="204.5" r="8.4"/>
<circle cx="1217.3" cy="211.8" r="8.4"/>
<circle cx="1189.1" cy="229.4" r="8.4"/>
<circle cx="1248" cy="218.6" r="8.4"/>
<circle cx="1179.8" cy="233.3" r="8.4"/>
<circle cx="1250.7" cy="171.4" r="8.4"/>
<circle cx="1229" cy="174.7" r="8.4"/>
<circle cx="1245.5" cy="194.5" r="8.4"/>
<circle cx="1188" cy="218.2" r="8.4"/>
<circle cx="1177.2" cy="205.3" r="8.4"/>
<circle cx="1183.4" cy="191.9" r="8.4"/>
<circle cx="1233.5" cy="222.8" r="8.4"/>
<circle cx="1200.9" cy="185" r="8.4"/>
<circle cx="1245.2" cy="225.3" r="8.4"/>
<circle cx="1170.1" cy="236.3" r="8.4"/>
<circle cx="1172.1" cy="205.1" r="8.4"/>
<circle cx="1162.9" cy="180.5" r="8.4"/>
<circle cx="1218.9" cy="184.7" r="8.4"/>
<circle cx="1209" cy="234.4" r="8.4"/>
<circle cx="1241.7" cy="181.1" r="8.4"/>
<circle cx="1188" cy="214.4" r="8.4"/>
<circle cx="1259.2" cy="193.2" r="8.4"/>
<circle cx="1231.3" cy="217.3" r="8.4"/>
<circle cx="1249.6" cy="192.8" r="8.4"/>
<circle cx="1212.1" cy="165.7" r="8.4"/>
<circle cx="1181.1" cy="178.2" r="8.4"/>
<circle cx="1227.2" cy="203.2" r="8.4"/>
<circle cx="1170.8" cy="210.4" r="8.4"/>
<circle cx="1202.7" cy="181.6" r="8.4"/>
<circle cx="1259.8" cy="182.4" r="8.4"/>
<circle cx="1196.7" cy="177.2" r="8.4"/>
<circle cx="1179" cy="220.3" r="8.4"/>
<circle cx="1243.5" cy="206.4" r="8.4"/>
<circle cx="1165.7" cy="233.9" r="8.4"/>
<circle cx="1161.8" cy="239.1" r="8.4"/>
<circle cx="1231.7" cy="187.4" r="8.4"/>
<circle cx="1166.8" cy="174.6" r="8.4"/>
<circle cx="1210.6" cy="219.8" r="8.4"/>
<circle cx="1218.2" cy="154.2" r="8.4"/>
<circle cx="1231.4" cy="195.1" r="8.4"/>
<circle cx="1158.6" cy="199.1" r="8.4"/>
<circle cx="1207.2" cy="182" r="8.4"/>
<circle cx="1190.4" cy="211.3" r="8.4"/>
<circle cx="1213.5" cy="211.8" r="8.4"/>
<circle cx="1256.9" cy="171.9" r="8.4"/>
<circle cx="1245.2" cy="131.2" r="8.4"/>
<circle cx="1257.3" cy="131.5" r="8.4"/>
<circle cx="1182.4" cy="141.6" r="8.4"/>
<circle cx="1233.2" cy="148.1" r="8.4"/>
<circle cx="1218.5" cy="147" r="8.4"/>
<circle cx="1200.2" cy="140.1" r="8.4"/>
<circle cx="1181.1" cy="130.4" r="8.4"/>
<circle cx="1197.8" cy="139.5" r="8.4"/>
<circle cx="1242.8" cy="138.9" r="8.4"/>
<circle cx="1191.4" cy="152.6" r="8.4"/>
<circle cx="1230.6" cy="158.1" r="8.4"/>
<circle cx="1251.5" cy="143.4" r="8.4"/>
<circle cx="1197.2" cy="143.4" r="8.4"/>
<circle cx="1251.5" cy="149.1" r="8.4"/>
<circle cx="1224.2" cy="136.8" r="8.4"/>
<circle cx="1257.2" cy="140" r="8.4"/>
<circle cx="1236.6" cy="136.9" r="8.4"/>
<circle cx="1204.5" cy="138.6" r="8.4"/>
<circle cx="1191.9" cy="139.1" r="8.4"/>
<circle cx="1185.3" cy="147.6" r="8.4"/>
<circle cx="1180.3" cy="138.7" r="8.4"/>
<circle cx="1235.6" cy="155.9" r="8.4"/>
<circle cx="1247.1" cy="138.5" r="8.4"/>
<circle cx="1219.4" cy="150.3" r="8.4"/>
<circle cx="1237.8" cy="138.4" r="8.4"/>
<circle cx="1184.7" cy="153.5" r="8.4"/>
<circle cx="1241.5" cy="145.1" r="8.4"/>
<circle cx="1249.3" cy="142.7" r="8.4"/>
<circle cx="1210" cy="145" r="8.4"/>
<circle cx="1183.8" cy="141.8" r="8.4"/>
<circle cx="1194.8" cy="142.4" r="8.4"/>
<circle cx="1242" cy="149.4" r="8.4"/>
<circle cx="1256.2" cy="141.2" r="8.4"/>
<circle cx="1209.1" cy="151.6" r="8.4"/>
<circle cx="1223" cy="139.7" r="8.4"/>
<circle cx="1241.4" cy="143.8" r="8.4"/>
<circle cx="1245.4" cy="138.3" r="8.4"/>
<circle cx="1257.6" cy="144.7" r="8.4"/>
<circle cx="1187.5" cy="140.9" r="8.4"/>
<circle cx="1255.3" cy="135.6" r="8.4"/>
<circle cx="1219.2" cy="73.5" r="8.4"/>
<circle cx="1187.8" cy="80.7" r="8.4"/>
<circle cx="1252.9" cy="78.8" r="8.4"/>
<circle cx="1260.1" cy="86.3" r="8.4"/>
<circle cx="1175.5" cy="94.4" r="8.4"/>
<circle cx="1228" cy="94.4" r="8.4"/>
<circle cx="1236" cy="96" r="8.4"/>
<circle cx="1186.2" cy="108" r="8.4"/>
<circle cx="1175" cy="109.6" r="8.4"/>
<circle cx="1234.4" cy="106.4" r="8.4"/>
<circle cx="1255.3" cy="109.6" r="8.4"/>
<circle cx="1160.5" cy="120.9" r="8.4"/>
<circle cx="1187.8" cy="122.5" r="8.4"/>
<circle cx="1202.3" cy="117.7" r="8.4"/>
<circle cx="1211.9" cy="114.4" r="8.4"/>
<circle cx="1236" cy="120.9" r="8.4"/>
<circle cx="1256.9" cy="120.9" r="8.4"/>
<circle cx="1175" cy="136.9" r="8.4"/>
<circle cx="1160.5" cy="142.5" r="8.4"/>
<circle cx="1260.1" cy="151.4" r="8.4"/>
<circle cx="1155.7" cy="281.5" r="8.4"/>
<circle cx="1170.2" cy="288.7" r="8.4"/>
<circle cx="1176.6" cy="279.9" r="8.4"/>
<circle cx="1183" cy="276.7" r="8.4"/>
<circle cx="1163.7" cy="265.4" r="8.4"/>
<circle cx="1188.6" cy="263.8" r="8.4"/>
<circle cx="1236" cy="283.1" r="8.4"/>
<circle cx="1261.7" cy="283.1" r="8.4"/>
<circle cx="1213.5" cy="299.2" r="8.4"/>
<circle cx="1179.8" cy="305.6" r="8.4"/>
<circle cx="1187" cy="312" r="8.4"/>
<circle cx="1203.6" cy="337.7" r="8.4"/>
<circle cx="1231.2" cy="268.7" r="8.4"/>
<circle cx="1152.5" cy="252.6" r="8.4"/>
<circle cx="1244.1" cy="257.4" r="8.4"/>
</g>
<g class="U">
<circle cx="1378.4" cy="191.1" r="8.4"/>
<circle cx="1404.6" cy="229.3" r="8.4"/>
<circle cx="1338.5" cy="179.4" r="8.4"/>
<circle cx="1430.8" cy="179.4" r="8.4"/>
<circle cx="1448.5" cy="186.6" r="8.4"/>
<circle cx="1389.7" cy="212.1" r="8.4"/>
<circle cx="1408.6" cy="207.4" r="8.4"/>
<circle cx="1353.9" cy="155.9" r="8.4"/>
<circle cx="1395.6" cy="144" r="8.4"/>
<circle cx="1420" cy="138.2" r="8.4"/>
<circle cx="1421.9" cy="182.3" r="8.4"/>
<circle cx="1403.2" cy="177.4" r="8.4"/>
<circle cx="1433.9" cy="185.4" r="8.4"/>
<circle cx="1389.9" cy="195.9" r="8.4"/>
<circle cx="1417" cy="174.8" r="8.4"/>
<circle cx="1426.7" cy="217.1" r="8.4"/>
<circle cx="1386.8" cy="172.3" r="8.4"/>
<circle cx="1347.9" cy="250.3" r="8.4"/>
<circle cx="1352.2" cy="161.3" r="8.4"/>
<circle cx="1385.9" cy="205.6" r="8.4"/>
<circle cx="1393.8" cy="168.5" r="8.4"/>
<circle cx="1380.2" cy="168" r="8.4"/>
<circle cx="1402.4" cy="162.1" r="8.4"/>
<circle cx="1438.3" cy="223.3" r="8.4"/>
<circle cx="1432.9" cy="156.5" r="8.4"/>
<circle cx="1355.3" cy="237.1" r="8.4"/>
<circle cx="1433.4" cy="185.2" r="8.4"/>
<circle cx="1400.7" cy="172.2" r="8.4"/>
<circle cx="1430.1" cy="182.9" r="8.4"/>
<circle cx="1401.2" cy="165.9" r="8.4"/>
<circle cx="1432.6" cy="185.4" r="8.4"/>
<circle cx="1447.9" cy="199.7" r="8.4"/>
<circle cx="1383" cy="238.3" r="8.4"/>
<circle cx="1353.9" cy="219.3" r="8.4"/>
<circle cx="1434.7" cy="172.6" r="8.4"/>
<circle cx="1341.9" cy="242.3" r="8.4"/>
<circle cx="1417.5" cy="180.5" r="8.4"/>
<circle cx="1374.1" cy="181.4" r="8.4"/>
<circle cx="1393.6" cy="124.9" r="8.4"/>
<circle cx="1345.6" cy="216.4" r="8.4"/>
<circle cx="1404.2" cy="187.7" r="8.4"/>
<circle cx="1382.7" cy="209.5" r="8.4"/>
<circle cx="1405.4" cy="192.3" r="8.4"/>
<circle cx="1434.2" cy="193.4" r="8.4"/>
<circle cx="1372.1" cy="196.1" r="8.4"/>
<circle cx="1379.3" cy="169.9" r="8.4"/>
<circle cx="1409.1" cy="149.2" r="8.4"/>
<circle cx="1403.7" cy="197.8" r="8.4"/>
<circle cx="1442.3" cy="145.2" r="8.4"/>
<circle cx="1393.8" cy="171.3" r="8.4"/>
<circle cx="1363.6" cy="140.2" r="8.4"/>
<circle cx="1370.7" cy="210.1" r="8.4"/>
<circle cx="1398.4" cy="227.7" r="8.4"/>
<circle cx="1338.3" cy="182.4" r="8.4"/>
<circle cx="1339.2" cy="150.6" r="8.4"/>
<circle cx="1406" cy="210.1" r="8.4"/>
<circle cx="1407.3" cy="180.2" r="8.4"/>
<circle cx="1389.2" cy="179.4" r="8.4"/>
<circle cx="1416.2" cy="174.8" r="8.4"/>
<circle cx="1419.7" cy="160.2" r="8.4"/>
<circle cx="1412.7" cy="199.6" r="8.4"/>
<circle cx="1444.9" cy="189.6" r="8.4"/>
<circle cx="1403.4" cy="187.7" r="8.4"/>
<circle cx="1372.8" cy="224.4" r="8.4"/>
<circle cx="1378.3" cy="169.2" r="8.4"/>
<circle cx="1403.7" cy="209.6" r="8.4"/>
<circle cx="1423.5" cy="178" r="8.4"/>
<circle cx="1340" cy="218.5" r="8.4"/>
<circle cx="1371.7" cy="139.2" r="8.4"/>
<circle cx="1361.9" cy="165.3" r="8.4"/>
<circle cx="1358" cy="196.1" r="8.4"/>
<circle cx="1385.7" cy="165" r="8.4"/>
<circle cx="1373.1" cy="183.1" r="8.4"/>
<circle cx="1374.4" cy="173.5" r="8.4"/>
<circle cx="1432.8" cy="205.8" r="8.4"/>
<circle cx="1356" cy="157.3" r="8.4"/>
<circle cx="1436.1" cy="163.2" r="8.4"/>
<circle cx="1387.5" cy="228.9" r="8.4"/>
<circle cx="1396.3" cy="190.6" r="8.4"/>
<circle cx="1358.4" cy="204.5" r="8.4"/>
<circle cx="1357.6" cy="210" r="8.4"/>
<circle cx="1368.2" cy="129" r="8.4"/>
<circle cx="1427.3" cy="204.6" r="8.4"/>
<circle cx="1375.7" cy="143.7" r="8.4"/>
<circle cx="1425.9" cy="206.8" r="8.4"/>
<circle cx="1367.4" cy="208" r="8.4"/>
<circle cx="1384" cy="168.5" r="8.4"/>
<circle cx="1382.9" cy="216.2" r="8.4"/>
<circle cx="1337.5" cy="204.9" r="8.4"/>
<circle cx="1442.6" cy="178.8" r="8.4"/>
<circle cx="1440.9" cy="220.4" r="8.4"/>
<circle cx="1430.7" cy="197.5" r="8.4"/>
<circle cx="1411.3" cy="241.8" r="8.4"/>
<circle cx="1375.2" cy="160.9" r="8.4"/>
<circle cx="1362.5" cy="184.8" r="8.4"/>
<circle cx="1369.1" cy="228" r="8.4"/>
<circle cx="1427.7" cy="206.2" r="8.4"/>
<circle cx="1414.7" cy="207.9" r="8.4"/>
<circle cx="1437.8" cy="250.4" r="8.4"/>
<circle cx="1401.6" cy="155.6" r="8.4"/>
<circle cx="1356.2" cy="242.4" r="8.4"/>
<circle cx="1370.6" cy="192.5" r="8.4"/>
<circle cx="1383.3" cy="167" r="8.4"/>
<circle cx="1442.2" cy="153.6" r="8.4"/>
<circle cx="1365.3" cy="165" r="8.4"/>
<circle cx="1433.5" cy="168.5" r="8.4"/>
<circle cx="1376.4" cy="131" r="8.4"/>
<circle cx="1359.1" cy="196.2" r="8.4"/>
<circle cx="1356.2" cy="128.6" r="8.4"/>
<circle cx="1425.7" cy="174.9" r="8.4"/>
<circle cx="1429.2" cy="240.7" r="8.4"/>
<circle cx="1337.8" cy="159.8" r="8.4"/>
<circle cx="1342.6" cy="142.6" r="8.4"/>
<circle cx="1367.4" cy="140.5" r="8.4"/>
<circle cx="1384.4" cy="183.3" r="8.4"/>
<circle cx="1390" cy="228.1" r="8.4"/>
<circle cx="1343.1" cy="188.3" r="8.4"/>
<circle cx="1351.2" cy="186" r="8.4"/>
<circle cx="1446.2" cy="196.8" r="8.4"/>
<circle cx="1432.7" cy="196.8" r="8.4"/>
<circle cx="1372.4" cy="221.4" r="8.4"/>
<circle cx="1372.2" cy="208.1" r="8.4"/>
<circle cx="1402.7" cy="159.7" r="8.4"/>
<circle cx="1377.4" cy="226.3" r="8.4"/>
<circle cx="1350.9" cy="198.7" r="8.4"/>
<circle cx="1399.2" cy="215.5" r="8.4"/>
<circle cx="1345.9" cy="181.2" r="8.4"/>
<circle cx="1357" cy="156.5" r="8.4"/>
<circle cx="1424.7" cy="156.6" r="8.4"/>
<circle cx="1379.6" cy="220.1" r="8.4"/>
<circle cx="1385.3" cy="202.6" r="8.4"/>
<circle cx="1378.7" cy="144.3" r="8.4"/>
<circle cx="1384.1" cy="136.6" r="8.4"/>
<circle cx="1414.7" cy="189.2" r="8.4"/>
<circle cx="1397" cy="164" r="8.4"/>
<circle cx="1414.9" cy="194" r="8.4"/>
<circle cx="1384.7" cy="219.3" r="8.4"/>
<circle cx="1435.5" cy="203.1" r="8.4"/>
<circle cx="1437.6" cy="217.4" r="8.4"/>
<circle cx="1425.6" cy="175.6" r="8.4"/>
<circle cx="1350.8" cy="185.2" r="8.4"/>
<circle cx="1428.1" cy="224.8" r="8.4"/>
<circle cx="1425.8" cy="151.9" r="8.4"/>
<circle cx="1411.8" cy="129.2" r="8.4"/>
<circle cx="1348.6" cy="183.7" r="8.4"/>
<circle cx="1402.8" cy="145.7" r="8.4"/>
<circle cx="1423.7" cy="206.4" r="8.4"/>
<circle cx="1342" cy="188.6" r="8.4"/>
<circle cx="1435.6" cy="200.7" r="8.4"/>
<circle cx="1357.1" cy="196.2" r="8.4"/>
<circle cx="1350.6" cy="250.7" r="8.4"/>
<circle cx="1431.5" cy="197.3" r="8.4"/>
<circle cx="1443.7" cy="159" r="8.4"/>
<circle cx="1401.9" cy="132.3" r="8.4"/>
<circle cx="1423" cy="190.7" r="8.4"/>
<circle cx="1394.3" cy="179.4" r="8.4"/>
<circle cx="1420.9" cy="184.6" r="8.4"/>
<circle cx="1441.7" cy="172.7" r="8.4"/>
<circle cx="1400.2" cy="215.1" r="8.4"/>
<circle cx="1429.7" cy="198.9" r="8.4"/>
<circle cx="1365" cy="189" r="8.4"/>
<circle cx="1406" cy="208.8" r="8.4"/>
<circle cx="1378.2" cy="188.7" r="8.4"/>
<circle cx="1381.4" cy="155" r="8.4"/>
<circle cx="1346.3" cy="167.8" r="8.4"/>
<circle cx="1393" cy="215.8" r="8.4"/>
<circle cx="1420.7" cy="221.6" r="8.4"/>
<circle cx="1355" cy="182.3" r="8.4"/>
<circle cx="1412.5" cy="167.9" r="8.4"/>
<circle cx="1394.9" cy="136.3" r="8.4"/>
<circle cx="1437.5" cy="140.9" r="8.4"/>
<circle cx="1353.7" cy="192.8" r="8.4"/>
<circle cx="1439.7" cy="233.2" r="8.4"/>
<circle cx="1394.9" cy="219" r="8.4"/>
<circle cx="1357.8" cy="138.8" r="8.4"/>
<circle cx="1366.9" cy="206.4" r="8.4"/>
<circle cx="1372.3" cy="201.8" r="8.4"/>
<circle cx="1363" cy="229.6" r="8.4"/>
<circle cx="1370.1" cy="158.5" r="8.4"/>
<circle cx="1432.6" cy="178.6" r="8.4"/>
<circle cx="1402.5" cy="155.3" r="8.4"/>
<circle cx="1339.6" cy="185.5" r="8.4"/>
<circle cx="1390.7" cy="211" r="8.4"/>
<circle cx="1377.4" cy="173" r="8.4"/>
<circle cx="1373.1" cy="201.6" r="8.4"/>
<circle cx="1448" cy="190.8" r="8.4"/>
<circle cx="1390.7" cy="169.8" r="8.4"/>
<circle cx="1430.5" cy="157.9" r="8.4"/>
<circle cx="1429" cy="166.4" r="8.4"/>
<circle cx="1417.7" cy="152.6" r="8.4"/>
<circle cx="1432.9" cy="174.7" r="8.4"/>
<circle cx="1444.5" cy="144.5" r="8.4"/>
<circle cx="1389.3" cy="219.5" r="8.4"/>
<circle cx="1417.4" cy="191.1" r="8.4"/>
<circle cx="1412.6" cy="211.9" r="8.4"/>
<circle cx="1364.1" cy="250.6" r="8.4"/>
<circle cx="1358.2" cy="171.4" r="8.4"/>
<circle cx="1415.9" cy="186.8" r="8.4"/>
<circle cx="1433.2" cy="209.2" r="8.4"/>
<circle cx="1433.9" cy="208.5" r="8.4"/>
<circle cx="1372.1" cy="173.1" r="8.4"/>
<circle cx="1346.6" cy="140.8" r="8.4"/>
<circle cx="1347.4" cy="212.7" r="8.4"/>
<circle cx="1376.9" cy="201.8" r="8.4"/>
<circle cx="1402" cy="164.3" r="8.4"/>
<circle cx="1374.5" cy="186.3" r="8.4"/>
<circle cx="1385.9" cy="184.5" r="8.4"/>
<circle cx="1402.5" cy="165.4" r="8.4"/>
<circle cx="1444" cy="190" r="8.4"/>
<circle cx="1350.3" cy="156" r="8.4"/>
<circle cx="1367.8" cy="214.2" r="8.4"/>
<circle cx="1436.4" cy="179.8" r="8.4"/>
<circle cx="1438.8" cy="174.1" r="8.4"/>
<circle cx="1378.9" cy="252.5" r="8.4"/>
<circle cx="1423.5" cy="232.9" r="8.4"/>
<circle cx="1412.7" cy="189.3" r="8.4"/>
<circle cx="1410.3" cy="160.4" r="8.4"/>
<circle cx="1421.5" cy="196.9" r="8.4"/>
<circle cx="1444.7" cy="163.7" r="8.4"/>
<circle cx="1349.7" cy="168.9" r="8.4"/>
<circle cx="1392.3" cy="151.8" r="8.4"/>
<circle cx="1413" cy="156.6" r="8.4"/>
<circle cx="1400.4" cy="230.1" r="8.4"/>
<circle cx="1407.7" cy="207.7" r="8.4"/>
<circle cx="1357.1" cy="231.3" r="8.4"/>
<circle cx="1350.8" cy="225.1" r="8.4"/>
<circle cx="1441.4" cy="157.3" r="8.4"/>
<circle cx="1417.7" cy="206.7" r="8.4"/>
<circle cx="1403.9" cy="211" r="8.4"/>
<circle cx="1388.3" cy="143.2" r="8.4"/>
<circle cx="1372" cy="171.9" r="8.4"/>
<circle cx="1417.2" cy="193.6" r="8.4"/>
<circle cx="1421.5" cy="199.1" r="8.4"/>
<circle cx="1377.2" cy="135.8" r="8.4"/>
<circle cx="1366.8" cy="173.5" r="8.4"/>
<circle cx="1341.7" cy="138.2" r="8.4"/>
<circle cx="1393.5" cy="232.8" r="8.4"/>
<circle cx="1376.7" cy="189" r="8.4"/>
<circle cx="1374.3" cy="244.5" r="8.4"/>
<circle cx="1423.4" cy="154.2" r="8.4"/>
<circle cx="1376.5" cy="211.5" r="8.4"/>
<circle cx="1367.3" cy="197.2" r="8.4"/>
<circle cx="1348.2" cy="174.8" r="8.4"/>
<circle cx="1418.5" cy="231.6" r="8.4"/>
<circle cx="1357.7" cy="225.3" r="8.4"/>
<circle cx="1420.3" cy="200.8" r="8.4"/>
<circle cx="1428.4" cy="219.8" r="8.4"/>
<circle cx="1353.4" cy="187.6" r="8.4"/>
<circle cx="1381.6" cy="143.8" r="8.4"/>
<circle cx="1400.7" cy="202" r="8.4"/>
<circle cx="1359.6" cy="225.9" r="8.4"/>
<circle cx="1340.4" cy="187.9" r="8.4"/>
<circle cx="1427" cy="245.6" r="8.4"/>
<circle cx="1379.9" cy="250.5" r="8.4"/>
<circle cx="1398.9" cy="137.1" r="8.4"/>
<circle cx="1446.4" cy="147.5" r="8.4"/>
<circle cx="1413.9" cy="164.7" r="8.4"/>
<circle cx="1391.2" cy="168" r="8.4"/>
<circle cx="1404.4" cy="250.3" r="8.4"/>
<circle cx="1423.3" cy="187.7" r="8.4"/>
<circle cx="1411.1" cy="185.7" r="8.4"/>
<circle cx="1388.6" cy="147.9" r="8.4"/>
<circle cx="1358.7" cy="190.1" r="8.4"/>
<circle cx="1393.1" cy="179.1" r="8.4"/>
<circle cx="1409.3" cy="186.3" r="8.4"/>
<circle cx="1444.4" cy="148" r="8.4"/>
<circle cx="1436.9" cy="202.6" r="8.4"/>
<circle cx="1406.8" cy="226.5" r="8.4"/>
<circle cx="1342.7" cy="232" r="8.4"/>
<circle cx="1345.7" cy="172.7" r="8.4"/>
<circle cx="1397.4" cy="206.5" r="8.4"/>
<circle cx="1434.5" cy="214.4" r="8.4"/>
<circle cx="1414.8" cy="175.6" r="8.4"/>
<circle cx="1404.3" cy="231.3" r="8.4"/>
<circle cx="1440.8" cy="236.8" r="8.4"/>
<circle cx="1375.5" cy="176.5" r="8.4"/>
<circle cx="1427.3" cy="135.1" r="8.4"/>
<circle cx="1385.9" cy="247.7" r="8.4"/>
<circle cx="1421.8" cy="160.7" r="8.4"/>
<circle cx="1341.8" cy="172.2" r="8.4"/>
<circle cx="1345.7" cy="189.5" r="8.4"/>
<circle cx="1392.7" cy="194" r="8.4"/>
<circle cx="1415.3" cy="206.6" r="8.4"/>
<circle cx="1409.7" cy="154.4" r="8.4"/>
<circle cx="1371.1" cy="179.9" r="8.4"/>
<circle cx="1382" cy="133.9" r="8.4"/>
<circle cx="1357.2" cy="200.3" r="8.4"/>
<circle cx="1378.1" cy="230.5" r="8.4"/>
<circle cx="1378.5" cy="156.9" r="8.4"/>
<circle cx="1362.1" cy="144.3" r="8.4"/>
<circle cx="1337.3" cy="179.9" r="8.4"/>
<circle cx="1353.1" cy="202.7" r="8.4"/>
<circle cx="1388.5" cy="243.8" r="8.4"/>
<circle cx="1356.1" cy="195.6" r="8.4"/>
<circle cx="1382.2" cy="209.3" r="8.4"/>
<circle cx="1349.3" cy="191.8" r="8.4"/>
<circle cx="1355.8" cy="194.8" r="8.4"/>
<circle cx="1339.5" cy="176.4" r="8.4"/>
<circle cx="1387.2" cy="188.7" r="8.4"/>
<circle cx="1342.7" cy="145" r="8.4"/>
<circle cx="1382.2" cy="216.2" r="8.4"/>
<circle cx="1445.1" cy="181.9" r="8.4"/>
<circle cx="1361.5" cy="192.6" r="8.4"/>
<circle cx="1355.5" cy="219.1" r="8.4"/>
<circle cx="1406.7" cy="208.9" r="8.4"/>
<circle cx="1342.8" cy="178.3" r="8.4"/>
<circle cx="1418.5" cy="202" r="8.4"/>
<circle cx="1389.1" cy="178.9" r="8.4"/>
<circle cx="1441.5" cy="245.4" r="8.4"/>
<circle cx="1366.8" cy="180.2" r="8.4"/>
<circle cx="1428.2" cy="211.8" r="8.4"/>
<circle cx="1347.5" cy="167.1" r="8.4"/>
<circle cx="1413.4" cy="166" r="8.4"/>
<circle cx="1337.4" cy="231.4" r="8.4"/>
<circle cx="1340.4" cy="179.5" r="8.4"/>
<circle cx="1341.1" cy="205" r="8.4"/>
<circle cx="1343" cy="198.9" r="8.4"/>
<circle cx="1359.5" cy="147.9" r="8.4"/>
<circle cx="1446.1" cy="129.6" r="8.4"/>
<circle cx="1439.7" cy="129.1" r="8.4"/>
<circle cx="1442.3" cy="196.6" r="8.4"/>
<circle cx="1405" cy="215.5" r="8.4"/>
<circle cx="1443" cy="194" r="8.4"/>
<circle cx="1432.2" cy="211.4" r="8.4"/>
<circle cx="1349.8" cy="202.4" r="8.4"/>
<circle cx="1413.2" cy="165.1" r="8.4"/>
<circle cx="1441" cy="207" r="8.4"/>
<circle cx="1419.2" cy="212.7" r="8.4"/>
<circle cx="1430.6" cy="236.2" r="8.4"/>
<circle cx="1377.6" cy="163.4" r="8.4"/>
<circle cx="1424.3" cy="167.5" r="8.4"/>
<circle cx="1390.8" cy="200.2" r="8.4"/>
<circle cx="1417.7" cy="185.5" r="8.4"/>
<circle cx="1404.8" cy="208" r="8.4"/>
<circle cx="1391.6" cy="180" r="8.4"/>
<circle cx="1354.2" cy="156.4" r="8.4"/>
<circle cx="1389.3" cy="186.3" r="8.4"/>
<circle cx="1421.9" cy="181.1" r="8.4"/>
<circle cx="1363.6" cy="181.4" r="8.4"/>
<circle cx="1431.5" cy="174.6" r="8.4"/>
<circle cx="1434.7" cy="145.6" r="8.4"/>
<circle cx="1387.4" cy="135.1" r="8.4"/>
<circle cx="1374.4" cy="230.8" r="8.4"/>
<circle cx="1378.5" cy="155.6" r="8.4"/>
<circle cx="1444" cy="218" r="8.4"/>
<circle cx="1348.8" cy="202.6" r="8.4"/>
<circle cx="1346.1" cy="173.5" r="8.4"/>
<circle cx="1409.7" cy="181.3" r="8.4"/>
<circle cx="1354.1" cy="188.6" r="8.4"/>
<circle cx="1409.2" cy="198.4" r="8.4"/>
<circle cx="1362.8" cy="183.7" r="8.4"/>
<circle cx="1445.3" cy="185.4" r="8.4"/>
<circle cx="1384" cy="195.9" r="8.4"/>
<circle cx="1424.5" cy="229.7" r="8.4"/>
<circle cx="1396.9" cy="141.9" r="8.4"/>
<circle cx="1358.1" cy="152.5" r="8.4"/>
<circle cx="1429.5" cy="193.9" r="8.4"/>
<circle cx="1349.6" cy="200" r="8.4"/>
<circle cx="1359.3" cy="200.9" r="8.4"/>
<circle cx="1389.1" cy="198.9" r="8.4"/>
<circle cx="1361.9" cy="179.3" r="8.4"/>
<circle cx="1408.9" cy="209.8" r="8.4"/>
<circle cx="1422.3" cy="147.9" r="8.4"/>
<circle cx="1404.5" cy="209.1" r="8.4"/>
<circle cx="1386.9" cy="166.1" r="8.4"/>
<circle cx="1403.6" cy="236.1" r="8.4"/>
<circle cx="1428.3" cy="228.2" r="8.4"/>
<circle cx="1389" cy="199.2" r="8.4"/>
<circle cx="1418.5" cy="227.5" r="8.4"/>
<circle cx="1391.3" cy="214.9" r="8.4"/>
<circle cx="1345" cy="202.2" r="8.4"/>
<circle cx="1384.4" cy="137.1" r="8.4"/>
<circle cx="1409.6" cy="170.5" r="8.4"/>
<circle cx="1376.3" cy="170" r="8.4"/>
<circle cx="1448.5" cy="173.9" r="8.4"/>
<circle cx="1346.4" cy="170.1" r="8.4"/>
<circle cx="1361.4" cy="218.1" r="8.4"/>
<circle cx="1418.4" cy="226.7" r="8.4"/>
<circle cx="1435" cy="253.7" r="8.4"/>
<circle cx="1441.3" cy="233.3" r="8.4"/>
<circle cx="1397" cy="184.2" r="8.4"/>
<circle cx="1438.1" cy="227.2" r="8.4"/>
<circle cx="1423.6" cy="224.1" r="8.4"/>
<circle cx="1382.6" cy="176.2" r="8.4"/>
<circle cx="1369.7" cy="186.7" r="8.4"/>
<circle cx="1347.7" cy="207.3" r="8.4"/>
<circle cx="1417.9" cy="179.5" r="8.4"/>
<circle cx="1408.6" cy="177" r="8.4"/>
<circle cx="1341.5" cy="226.4" r="8.4"/>
<circle cx="1385.4" cy="187.2" r="8.4"/>
<circle cx="1375.6" cy="161.5" r="8.4"/>
<circle cx="1369.2" cy="185.3" r="8.4"/>
<circle cx="1348.6" cy="133.4" r="8.4"/>
<circle cx="1345.7" cy="177.6" r="8.4"/>
<circle cx="1354.2" cy="220.3" r="8.4"/>
<circle cx="1446.4" cy="192.1" r="8.4"/>
<circle cx="1446.7" cy="136.9" r="8.4"/>
<circle cx="1355.1" cy="210.7" r="8.4"/>
<circle cx="1371.9" cy="165.6" r="8.4"/>
<circle cx="1397.7" cy="148.8" r="8.4"/>
<circle cx="1440.5" cy="94.7" r="8.4"/>
<circle cx="1396.8" cy="103.8" r="8.4"/>
<circle cx="1371.6" cy="104.8" r="8.4"/>
<circle cx="1438.5" cy="104.1" r="8.4"/>
<circle cx="1437.2" cy="112.1" r="8.4"/>
<circle cx="1353.1" cy="116.8" r="8.4"/>
<circle cx="1338.8" cy="124.9" r="8.4"/>
<circle cx="1391.7" cy="124.2" r="8.4"/>
<circle cx="1446.6" cy="124.9" r="8.4"/>
<circle cx="1419.8" cy="132.2" r="8.4"/>
<circle cx="1364.9" cy="258.7" r="8.4"/>
<circle cx="1390.3" cy="270.1" r="8.4"/>
<circle cx="1395.7" cy="270.1" r="8.4"/>
<circle cx="1415.8" cy="263.4" r="8.4"/>
<circle cx="1440.5" cy="258.1" r="8.4"/>
<circle cx="1443.9" cy="250.7" r="8.4"/>
<circle cx="1393" cy="240.7" r="8.4"/>
<circle cx="1411.8" cy="246" r="8.4"/>
<circle cx="1407.7" cy="305.6" r="8.4"/>
</g>
<g stroke="#000" stroke-width="3.0" fill="none">
<path d="M1025.4 220.5V226.1M978.4 220.5H1072.4M978.4 226.1H1072.4"/>
<path d="M1208.7 194V200.1M1162.8 194H1254.6M1162.8 200.1H1254.6"/>
<path d="M1392.7 183.6V187.9M1346.9 183.6H1438.5M1346.9 187.9H1438.5"/>
</g><g fill="#000">
<circle cx="1025.4" cy="223.1" r="6.5"/>
<circle cx="1208.7" cy="196.4" r="6.5"/>
<circle cx="1392.7" cy="185.1" r="6.5"/>
</g>
<text class="pl" transform="translate(-1.4 505) scale(1.172 1)">c</text>
<path class="ax" d="M127.7 496.6V867.3H713.7M127.7 850.6H140.7M127.7 765.9H140.7M127.7 681.6H140.7M127.7 597.2H140.7M127.7 512.6H140.7M237.7 867.3V854.3M421 867.3V854.3M603.9 867.3V854.3"/>
<text class="tk" transform="translate(115.8 859.3) scale(1.173 1)">0</text>
<text class="tk" transform="translate(116.1 774.6) scale(1.146 1)">25</text>
<text class="tk" transform="translate(116.1 690.3) scale(1.146 1)">50</text>
<text class="tk" transform="translate(116.1 605.9) scale(1.146 1)">75</text>
<text class="tk" transform="translate(115.3 521.3) scale(1.043 1)">100</text>
<text class="yt" transform="translate(24 680.9) rotate(-90) scale(1.003 1)">Weight at</text>
<text class="yt" transform="translate(55.5 682) rotate(-90) scale(1.039 1)">first sampling (mg)</text>
<text class="xl" transform="translate(237.7 900.7) scale(1.028 1)">Down</text>
<text class="xl" transform="translate(421 900.7) scale(1.083 1)">Control</text>
<text class="xl" transform="translate(603.9 900.7) scale(1.028 1)">Up</text>
<g class="D">
<circle cx="212.9" cy="584.7" r="8.4"/>
<circle cx="226.7" cy="580.7" r="8.4"/>
<circle cx="250" cy="580.7" r="8.4"/>
<circle cx="285.7" cy="582.1" r="8.4"/>
<circle cx="206.7" cy="601.5" r="8.4"/>
<circle cx="203.1" cy="627.3" r="8.4"/>
<circle cx="183.4" cy="642.4" r="8.4"/>
<circle cx="230.6" cy="615.5" r="8.4"/>
<circle cx="241.8" cy="610.9" r="8.4"/>
<circle cx="241.1" cy="617.5" r="8.4"/>
<circle cx="256.9" cy="620.8" r="8.4"/>
<circle cx="271.9" cy="615.5" r="8.4"/>
<circle cx="273.9" cy="626.7" r="8.4"/>
<circle cx="230.2" cy="630.6" r="8.4"/>
<circle cx="247.7" cy="639.8" r="8.4"/>
<circle cx="262.8" cy="648.3" r="8.4"/>
<circle cx="280.5" cy="645" r="8.4"/>
<circle cx="289.7" cy="652.3" r="8.4"/>
<circle cx="201.7" cy="650.3" r="8.4"/>
<circle cx="210.9" cy="652.9" r="8.4"/>
<circle cx="212.2" cy="655.5" r="8.4"/>
<circle cx="221.4" cy="650.3" r="8.4"/>
<circle cx="234.5" cy="655.5" r="8.4"/>
<circle cx="241.1" cy="650.3" r="8.4"/>
<circle cx="197.8" cy="664.7" r="8.4"/>
<circle cx="233.2" cy="666" r="8.4"/>
<circle cx="251.6" cy="666" r="8.4"/>
<circle cx="267.3" cy="664.7" r="8.4"/>
<circle cx="189.9" cy="675.2" r="8.4"/>
<circle cx="195.2" cy="680.5" r="8.4"/>
<circle cx="200.4" cy="683.1" r="8.4"/>
<circle cx="220.1" cy="680.5" r="8.4"/>
<circle cx="225.4" cy="687" r="8.4"/>
<circle cx="243.7" cy="683.1" r="8.4"/>
<circle cx="256.9" cy="680.5" r="8.4"/>
<circle cx="267.3" cy="680.5" r="8.4"/>
<circle cx="279.2" cy="680.5" r="8.4"/>
<circle cx="288.3" cy="679.2" r="8.4"/>
<circle cx="281.8" cy="691" r="8.4"/>
<circle cx="284.4" cy="694.9" r="8.4"/>
<circle cx="238.5" cy="701.5" r="8.4"/>
<circle cx="243.7" cy="702.8" r="8.4"/>
<circle cx="203.7" cy="708" r="8.4"/>
<circle cx="203.1" cy="715.9" r="8.4"/>
<circle cx="208.3" cy="719.2" r="8.4"/>
<circle cx="212.2" cy="727.1" r="8.4"/>
<circle cx="224" cy="708" r="8.4"/>
<circle cx="227.3" cy="717.9" r="8.4"/>
<circle cx="226.7" cy="723.8" r="8.4"/>
<circle cx="245" cy="718.5" r="8.4"/>
<circle cx="265.4" cy="709.3" r="8.4"/>
<circle cx="272.6" cy="705.4" r="8.4"/>
<circle cx="275.9" cy="715.9" r="8.4"/>
<circle cx="273.3" cy="721.8" r="8.4"/>
<circle cx="191.2" cy="724.4" r="8.4"/>
<circle cx="249" cy="735.6" r="8.4"/>
<circle cx="283.8" cy="733" r="8.4"/>
<circle cx="218.8" cy="743.5" r="8.4"/>
<circle cx="205" cy="755.3" r="8.4"/>
<circle cx="184.7" cy="760.5" r="8.4"/>
<circle cx="254.2" cy="760.5" r="8.4"/>
<circle cx="289.7" cy="765.8" r="8.4"/>
<circle cx="240.8" cy="794" r="8.4"/>
<circle cx="208.3" cy="655.5" r="8.4"/>
<circle cx="212.2" cy="656.9" r="8.4"/>
<circle cx="246.4" cy="638.5" r="8.4"/>
<circle cx="249" cy="643.7" r="8.4"/>
<circle cx="264.7" cy="649" r="8.4"/>
<circle cx="256.9" cy="656.9" r="8.4"/>
<circle cx="238.5" cy="659.5" r="8.4"/>
<circle cx="283.1" cy="659.5" r="8.4"/>
<circle cx="246.4" cy="667.3" r="8.4"/>
<circle cx="256.9" cy="668.7" r="8.4"/>
<circle cx="221.4" cy="672.6" r="8.4"/>
<circle cx="208.3" cy="670" r="8.4"/>
<circle cx="228" cy="688.3" r="8.4"/>
<circle cx="238.5" cy="687" r="8.4"/>
<circle cx="250.3" cy="688.3" r="8.4"/>
<circle cx="272.6" cy="687" r="8.4"/>
<circle cx="243.7" cy="694.9" r="8.4"/>
<circle cx="234.5" cy="697.5" r="8.4"/>
</g>
<g class="C">
<circle cx="420.7" cy="573.2" r="8.4"/>
<circle cx="400.4" cy="620.3" r="8.4"/>
<circle cx="382.6" cy="629.5" r="8.4"/>
<circle cx="423.8" cy="623.4" r="8.4"/>
<circle cx="418.9" cy="628.9" r="8.4"/>
<circle cx="380.7" cy="643.7" r="8.4"/>
<circle cx="386.9" cy="648.6" r="8.4"/>
<circle cx="388.1" cy="646.1" r="8.4"/>
<circle cx="440.4" cy="639.4" r="8.4"/>
<circle cx="447.2" cy="643.7" r="8.4"/>
<circle cx="475.5" cy="637.5" r="8.4"/>
<circle cx="469.4" cy="643.7" r="8.4"/>
<circle cx="466.3" cy="649.8" r="8.4"/>
<circle cx="409" cy="653.5" r="8.4"/>
<circle cx="399.2" cy="663.4" r="8.4"/>
<circle cx="410.3" cy="660.9" r="8.4"/>
<circle cx="421.4" cy="657.2" r="8.4"/>
<circle cx="431.2" cy="662.1" r="8.4"/>
<circle cx="417.7" cy="665.8" r="8.4"/>
<circle cx="425" cy="669.5" r="8.4"/>
<circle cx="406.6" cy="675.7" r="8.4"/>
<circle cx="448.4" cy="669.5" r="8.4"/>
<circle cx="459.5" cy="664.6" r="8.4"/>
<circle cx="405.3" cy="681.8" r="8.4"/>
<circle cx="383.2" cy="686.8" r="8.4"/>
<circle cx="399.2" cy="688" r="8.4"/>
<circle cx="423.8" cy="686.8" r="8.4"/>
<circle cx="439.8" cy="689.2" r="8.4"/>
<circle cx="453.4" cy="689.2" r="8.4"/>
<circle cx="470.6" cy="685.5" r="8.4"/>
<circle cx="473.1" cy="697.9" r="8.4"/>
<circle cx="463.2" cy="694.2" r="8.4"/>
<circle cx="406.6" cy="699.1" r="8.4"/>
<circle cx="388.1" cy="708.3" r="8.4"/>
<circle cx="406.6" cy="705.9" r="8.4"/>
<circle cx="415.2" cy="706.5" r="8.4"/>
<circle cx="439.8" cy="710.8" r="8.4"/>
<circle cx="446" cy="707.7" r="8.4"/>
<circle cx="468.2" cy="708.3" r="8.4"/>
<circle cx="459.5" cy="713.9" r="8.4"/>
<circle cx="399.2" cy="722.5" r="8.4"/>
<circle cx="406.6" cy="723.7" r="8.4"/>
<circle cx="418.9" cy="723.7" r="8.4"/>
<circle cx="426.3" cy="722.5" r="8.4"/>
<circle cx="431.2" cy="727.4" r="8.4"/>
<circle cx="453.4" cy="721.3" r="8.4"/>
<circle cx="465.7" cy="721.3" r="8.4"/>
<circle cx="470.6" cy="722.5" r="8.4"/>
<circle cx="375.8" cy="739.7" r="8.4"/>
<circle cx="391.8" cy="737.3" r="8.4"/>
<circle cx="406.6" cy="741" r="8.4"/>
<circle cx="428.7" cy="736" r="8.4"/>
<circle cx="443.5" cy="734.8" r="8.4"/>
<circle cx="455.8" cy="734.8" r="8.4"/>
<circle cx="469.4" cy="736" r="8.4"/>
<circle cx="368.4" cy="752" r="8.4"/>
<circle cx="367.2" cy="757" r="8.4"/>
<circle cx="370.9" cy="763.1" r="8.4"/>
<circle cx="404.7" cy="760.7" r="8.4"/>
<circle cx="466.9" cy="769.3" r="8.4"/>
<circle cx="473.1" cy="765.6" r="8.4"/>
<circle cx="438.6" cy="691.7" r="8.4"/>
<circle cx="418.9" cy="684.3" r="8.4"/>
<circle cx="404.1" cy="651.1" r="8.4"/>
<circle cx="414" cy="652.3" r="8.4"/>
<circle cx="418.9" cy="653.5" r="8.4"/>
<circle cx="428.7" cy="657.2" r="8.4"/>
<circle cx="433.7" cy="662.1" r="8.4"/>
<circle cx="402.9" cy="659.7" r="8.4"/>
<circle cx="407.8" cy="665.8" r="8.4"/>
<circle cx="414" cy="663.4" r="8.4"/>
<circle cx="420.1" cy="668.3" r="8.4"/>
<circle cx="430" cy="670.8" r="8.4"/>
<circle cx="414" cy="673.2" r="8.4"/>
<circle cx="423.8" cy="675.7" r="8.4"/>
<circle cx="431.2" cy="676.9" r="8.4"/>
<circle cx="385.6" cy="648.6" r="8.4"/>
<circle cx="390.6" cy="652.3" r="8.4"/>
<circle cx="462" cy="663.4" r="8.4"/>
<circle cx="463.2" cy="667.1" r="8.4"/>
<circle cx="453.4" cy="706.5" r="8.4"/>
<circle cx="463.2" cy="712.6" r="8.4"/>
<circle cx="470.6" cy="715.1" r="8.4"/>
<circle cx="441.1" cy="708.9" r="8.4"/>
<circle cx="418.9" cy="725" r="8.4"/>
<circle cx="414" cy="721.3" r="8.4"/>
</g>
<g class="U">
<circle cx="654.1" cy="638.5" r="8.4"/>
<circle cx="558.9" cy="647.9" r="8.4"/>
<circle cx="574.4" cy="650.4" r="8.4"/>
<circle cx="584.4" cy="651.4" r="8.4"/>
<circle cx="601.9" cy="648.4" r="8.4"/>
<circle cx="615.8" cy="648.9" r="8.4"/>
<circle cx="596.4" cy="654.4" r="8.4"/>
<circle cx="643.3" cy="650.4" r="8.4"/>
<circle cx="576.9" cy="666.4" r="8.4"/>
<circle cx="580.9" cy="666.9" r="8.4"/>
<circle cx="595.9" cy="665.9" r="8.4"/>
<circle cx="596.9" cy="669.9" r="8.4"/>
<circle cx="594.9" cy="672.9" r="8.4"/>
<circle cx="629.3" cy="666.9" r="8.4"/>
<circle cx="640.8" cy="669.9" r="8.4"/>
<circle cx="648.8" cy="673.9" r="8.4"/>
<circle cx="646.8" cy="681.9" r="8.4"/>
<circle cx="569.4" cy="680.9" r="8.4"/>
<circle cx="556.9" cy="689.9" r="8.4"/>
<circle cx="575.4" cy="687.9" r="8.4"/>
<circle cx="585.9" cy="689.9" r="8.4"/>
<circle cx="609.8" cy="684.9" r="8.4"/>
<circle cx="615.8" cy="686.9" r="8.4"/>
<circle cx="624.8" cy="681.9" r="8.4"/>
<circle cx="634.8" cy="684.9" r="8.4"/>
<circle cx="633.8" cy="692.9" r="8.4"/>
<circle cx="624.8" cy="691.9" r="8.4"/>
<circle cx="549" cy="701.8" r="8.4"/>
<circle cx="573.9" cy="699.8" r="8.4"/>
<circle cx="579.9" cy="707.8" r="8.4"/>
<circle cx="651.8" cy="699.8" r="8.4"/>
<circle cx="655.7" cy="707.8" r="8.4"/>
<circle cx="619.8" cy="707.8" r="8.4"/>
<circle cx="625.8" cy="713.8" r="8.4"/>
<circle cx="652.8" cy="715.8" r="8.4"/>
<circle cx="646.8" cy="718.8" r="8.4"/>
<circle cx="591.9" cy="718.8" r="8.4"/>
<circle cx="598.9" cy="721.8" r="8.4"/>
<circle cx="599.9" cy="725.8" r="8.4"/>
<circle cx="612.8" cy="719.8" r="8.4"/>
<circle cx="567.9" cy="725.3" r="8.4"/>
<circle cx="573.9" cy="725.8" r="8.4"/>
<circle cx="574.9" cy="735.8" r="8.4"/>
<circle cx="591.9" cy="730.8" r="8.4"/>
<circle cx="603.9" cy="726.8" r="8.4"/>
<circle cx="621.8" cy="732.8" r="8.4"/>
<circle cx="615.8" cy="742.8" r="8.4"/>
<circle cx="628.3" cy="738.8" r="8.4"/>
<circle cx="639.8" cy="730.8" r="8.4"/>
<circle cx="650.8" cy="733.8" r="8.4"/>
<circle cx="655.7" cy="724.8" r="8.4"/>
<circle cx="640.8" cy="746.7" r="8.4"/>
<circle cx="645.3" cy="756.7" r="8.4"/>
<circle cx="567.9" cy="755.2" r="8.4"/>
<circle cx="598.2" cy="760.2" r="8.4"/>
<circle cx="648.8" cy="772.7" r="8.4"/>
<circle cx="628.8" cy="711.8" r="8.4"/>
<circle cx="639.8" cy="715.8" r="8.4"/>
<circle cx="575" cy="662" r="8.4"/>
<circle cx="590" cy="668" r="8.4"/>
<circle cx="598" cy="676" r="8.4"/>
<circle cx="632" cy="674" r="8.4"/>
<circle cx="645" cy="686" r="8.4"/>
<circle cx="580" cy="700" r="8.4"/>
<circle cx="590" cy="712" r="8.4"/>
<circle cx="612" cy="716" r="8.4"/>
<circle cx="640" cy="722" r="8.4"/>
<circle cx="652" cy="728" r="8.4"/>
<circle cx="570" cy="715" r="8.4"/>
<circle cx="625" cy="700" r="8.4"/>
</g>
<g stroke="#000" stroke-width="2.6" fill="none">
<path d="M236.5 671V681.1M190 671H283M190 681.1H283"/>
<path d="M420.1 687.8V697.2M374.5 687.8H465.7M374.5 697.2H465.7"/>
<path d="M603.9 697.3V704.8M558.1 697.3H649.7M558.1 704.8H649.7"/>
</g><g fill="#000">
<circle cx="236.5" cy="675.2" r="6.5"/>
<circle cx="420.1" cy="692.9" r="6.5"/>
<circle cx="603.9" cy="701.3" r="6.5"/>
</g>
<text class="pl" transform="translate(778.4 506) scale(1.211 1)">d</text>
<path class="ax" d="M916.5 496V867.1H1503M916.5 850.2H929.5M916.5 765.9H929.5M916.5 681.6H929.5M916.5 597H929.5M916.5 512.9H929.5M1026.6 867.1V854.1M1210 867.1V854.1M1392.8 867.1V854.1"/>
<text class="tk" transform="translate(904.6 858.9) scale(1.173 1)">0</text>
<text class="tk" transform="translate(904.1 774.6) scale(1.043 1)">100</text>
<text class="tk" transform="translate(904.1 690.3) scale(1.108 1)">200</text>
<text class="tk" transform="translate(904.1 605.7) scale(1.108 1)">300</text>
<text class="tk" transform="translate(904.1 521.6) scale(1.108 1)">400</text>
<text class="yt" transform="translate(803.7 680.9) rotate(-90) scale(1.003 1)">Weight at</text>
<text class="yt" transform="translate(836.3 682) rotate(-90) scale(1.035 1)">final sampling (mg)</text>
<text class="xl" transform="translate(1026.6 900.7) scale(1.028 1)">Down</text>
<text class="xl" transform="translate(1210 900.7) scale(1.083 1)">Control</text>
<text class="xl" transform="translate(1392.8 900.7) scale(1.028 1)">Up</text>
<g class="D">
<circle cx="988.6" cy="611" r="8.4"/>
<circle cx="1023" cy="609.3" r="8.4"/>
<circle cx="1078.4" cy="607.3" r="8.4"/>
<circle cx="1014.6" cy="624.2" r="8.4"/>
<circle cx="1067.6" cy="641.8" r="8.4"/>
<circle cx="976" cy="647.8" r="8.4"/>
<circle cx="1006.9" cy="651.2" r="8.4"/>
<circle cx="1026.6" cy="653.6" r="8.4"/>
<circle cx="1047.1" cy="660.8" r="8.4"/>
<circle cx="1016.5" cy="677.7" r="8.4"/>
<circle cx="1039.2" cy="699.4" r="8.4"/>
<circle cx="1064.5" cy="694.1" r="8.4"/>
<circle cx="1072.4" cy="698.4" r="8.4"/>
<circle cx="1081.6" cy="710.2" r="8.4"/>
<circle cx="1054.3" cy="708.6" r="8.4"/>
<circle cx="988.1" cy="707.3" r="8.4"/>
<circle cx="998.9" cy="709.8" r="8.4"/>
<circle cx="1011" cy="711" r="8.4"/>
<circle cx="1019.4" cy="707.3" r="8.4"/>
<circle cx="979.6" cy="714.6" r="8.4"/>
<circle cx="1001.3" cy="717" r="8.4"/>
<circle cx="1027.8" cy="717" r="8.4"/>
<circle cx="1054.3" cy="715.8" r="8.4"/>
<circle cx="980.8" cy="725.4" r="8.4"/>
<circle cx="1001.3" cy="725.4" r="8.4"/>
<circle cx="1047.1" cy="723" r="8.4"/>
<circle cx="1071.2" cy="720.6" r="8.4"/>
<circle cx="1080.8" cy="727.8" r="8.4"/>
<circle cx="1080.8" cy="737.5" r="8.4"/>
<circle cx="1002.5" cy="741.1" r="8.4"/>
<circle cx="1011" cy="743.5" r="8.4"/>
<circle cx="1021.8" cy="744.7" r="8.4"/>
<circle cx="1039.9" cy="742.3" r="8.4"/>
<circle cx="1054.3" cy="742.3" r="8.4"/>
<circle cx="1068.8" cy="744.7" r="8.4"/>
<circle cx="976" cy="750.7" r="8.4"/>
<circle cx="983.3" cy="754.3" r="8.4"/>
<circle cx="979.6" cy="761.6" r="8.4"/>
<circle cx="988.1" cy="762.8" r="8.4"/>
<circle cx="997.7" cy="765.2" r="8.4"/>
<circle cx="1015.8" cy="765.2" r="8.4"/>
<circle cx="1020.6" cy="754.3" r="8.4"/>
<circle cx="1030.2" cy="756.7" r="8.4"/>
<circle cx="1035.1" cy="764" r="8.4"/>
<circle cx="1037.5" cy="771.2" r="8.4"/>
<circle cx="1051.9" cy="771.2" r="8.4"/>
<circle cx="1054.3" cy="759.2" r="8.4"/>
<circle cx="1064" cy="759.2" r="8.4"/>
<circle cx="1068.8" cy="771.2" r="8.4"/>
<circle cx="1080.8" cy="771.2" r="8.4"/>
<circle cx="1068.8" cy="778.4" r="8.4"/>
<circle cx="1001.3" cy="777.2" r="8.4"/>
<circle cx="1000.1" cy="784.5" r="8.4"/>
<circle cx="1025.9" cy="789.3" r="8.4"/>
<circle cx="995.8" cy="821.1" r="8.4"/>
<circle cx="1039.2" cy="825.4" r="8.4"/>
<circle cx="1042.3" cy="732.7" r="8.4"/>
<circle cx="1059.2" cy="735.1" r="8.4"/>
<circle cx="1076" cy="744.7" r="8.4"/>
<circle cx="985" cy="712" r="8.4"/>
<circle cx="995" cy="720" r="8.4"/>
<circle cx="1005" cy="732" r="8.4"/>
<circle cx="990" cy="738" r="8.4"/>
<circle cx="1070" cy="728" r="8.4"/>
<circle cx="1078" cy="735" r="8.4"/>
<circle cx="1060" cy="750" r="8.4"/>
<circle cx="1072" cy="756" r="8.4"/>
<circle cx="1082" cy="760" r="8.4"/>
<circle cx="1050" cy="765" r="8.4"/>
<circle cx="1062" cy="770" r="8.4"/>
<circle cx="1045" cy="780" r="8.4"/>
<circle cx="1075" cy="785" r="8.4"/>
<circle cx="1040" cy="748" r="8.4"/>
<circle cx="1010" cy="755" r="8.4"/>
<circle cx="985" cy="745" r="8.4"/>
<circle cx="1022" cy="725" r="8.4"/>
<circle cx="1032" cy="735" r="8.4"/>
</g>
<g class="C">
<circle cx="1236.4" cy="551.8" r="8.4"/>
<circle cx="1217.9" cy="601.5" r="8.4"/>
<circle cx="1156.3" cy="633" r="8.4"/>
<circle cx="1194.2" cy="634.2" r="8.4"/>
<circle cx="1259.3" cy="624.5" r="8.4"/>
<circle cx="1251.1" cy="629.8" r="8.4"/>
<circle cx="1241.3" cy="644.5" r="8.4"/>
<circle cx="1193.6" cy="658.4" r="8.4"/>
<circle cx="1170.2" cy="670.3" r="8.4"/>
<circle cx="1183.8" cy="680.4" r="8.4"/>
<circle cx="1203.7" cy="678.8" r="8.4"/>
<circle cx="1202.9" cy="682.1" r="8.4"/>
<circle cx="1220.9" cy="683.7" r="8.4"/>
<circle cx="1171" cy="693.5" r="8.4"/>
<circle cx="1186.6" cy="697.6" r="8.4"/>
<circle cx="1202.9" cy="697.6" r="8.4"/>
<circle cx="1213.2" cy="694.3" r="8.4"/>
<circle cx="1233.1" cy="695.1" r="8.4"/>
<circle cx="1239.7" cy="698.4" r="8.4"/>
<circle cx="1256" cy="688.6" r="8.4"/>
<circle cx="1256.8" cy="697.6" r="8.4"/>
<circle cx="1252.7" cy="703.3" r="8.4"/>
<circle cx="1246.2" cy="708.2" r="8.4"/>
<circle cx="1193.9" cy="709" r="8.4"/>
<circle cx="1177.3" cy="716.4" r="8.4"/>
<circle cx="1228.2" cy="716.4" r="8.4"/>
<circle cx="1231.5" cy="722.9" r="8.4"/>
<circle cx="1161.2" cy="731.1" r="8.4"/>
<circle cx="1260.1" cy="727" r="8.4"/>
<circle cx="1154.7" cy="742.5" r="8.4"/>
<circle cx="1158" cy="752.3" r="8.4"/>
<circle cx="1156.3" cy="765.4" r="8.4"/>
<circle cx="1179.2" cy="742.5" r="8.4"/>
<circle cx="1189" cy="745.8" r="8.4"/>
<circle cx="1198.8" cy="744.2" r="8.4"/>
<circle cx="1215.2" cy="743.3" r="8.4"/>
<circle cx="1226.6" cy="745" r="8.4"/>
<circle cx="1242.9" cy="745.8" r="8.4"/>
<circle cx="1257.6" cy="738.4" r="8.4"/>
<circle cx="1177.6" cy="767" r="8.4"/>
<circle cx="1189" cy="763.8" r="8.4"/>
<circle cx="1193.9" cy="770.3" r="8.4"/>
<circle cx="1207" cy="762.1" r="8.4"/>
<circle cx="1228.2" cy="763.8" r="8.4"/>
<circle cx="1241.3" cy="762.1" r="8.4"/>
<circle cx="1256" cy="757.2" r="8.4"/>
<circle cx="1264.2" cy="761.3" r="8.4"/>
<circle cx="1257.6" cy="770.3" r="8.4"/>
<circle cx="1184.1" cy="778.5" r="8.4"/>
<circle cx="1195.6" cy="783.4" r="8.4"/>
<circle cx="1227.4" cy="779.3" r="8.4"/>
<circle cx="1256" cy="780.9" r="8.4"/>
<circle cx="1164.5" cy="791.5" r="8.4"/>
<circle cx="1186.2" cy="789.9" r="8.4"/>
<circle cx="1225.8" cy="794.8" r="8.4"/>
<circle cx="1243.4" cy="796.4" r="8.4"/>
<circle cx="1154.7" cy="737.6" r="8.4"/>
<circle cx="1159.6" cy="747.4" r="8.4"/>
<circle cx="1153.1" cy="755.6" r="8.4"/>
<circle cx="1161.2" cy="760.5" r="8.4"/>
<circle cx="1154.7" cy="770.3" r="8.4"/>
<circle cx="1180.8" cy="747.4" r="8.4"/>
<circle cx="1192.3" cy="752.3" r="8.4"/>
<circle cx="1185.8" cy="760.5" r="8.4"/>
<circle cx="1197.2" cy="763.8" r="8.4"/>
<circle cx="1182.5" cy="771.9" r="8.4"/>
<circle cx="1192.3" cy="776.8" r="8.4"/>
<circle cx="1202.1" cy="755.6" r="8.4"/>
<circle cx="1228.2" cy="711.5" r="8.4"/>
<circle cx="1234.8" cy="722.9" r="8.4"/>
<circle cx="1225" cy="726.2" r="8.4"/>
<circle cx="1244.6" cy="703.3" r="8.4"/>
<circle cx="1251.1" cy="711.5" r="8.4"/>
<circle cx="1241.3" cy="708.2" r="8.4"/>
<circle cx="1221.7" cy="745.8" r="8.4"/>
<circle cx="1231.5" cy="740.9" r="8.4"/>
<circle cx="1254.4" cy="763.8" r="8.4"/>
<circle cx="1260.9" cy="773.6" r="8.4"/>
<circle cx="1216.8" cy="737.6" r="8.4"/>
</g>
<g class="U">
<circle cx="1391" cy="547.7" r="8.4"/>
<circle cx="1405.4" cy="597.9" r="8.4"/>
<circle cx="1444.7" cy="614.7" r="8.4"/>
<circle cx="1348.3" cy="627.9" r="8.4"/>
<circle cx="1409.9" cy="629" r="8.4"/>
<circle cx="1412.5" cy="639" r="8.4"/>
<circle cx="1368.2" cy="653" r="8.4"/>
<circle cx="1394" cy="648.2" r="8.4"/>
<circle cx="1430" cy="647.7" r="8.4"/>
<circle cx="1445" cy="649.5" r="8.4"/>
<circle cx="1405.4" cy="659" r="8.4"/>
<circle cx="1399.4" cy="675.2" r="8.4"/>
<circle cx="1344.2" cy="694.2" r="8.4"/>
<circle cx="1351.7" cy="692.7" r="8.4"/>
<circle cx="1355.5" cy="697.2" r="8.4"/>
<circle cx="1364.5" cy="700.2" r="8.4"/>
<circle cx="1390" cy="707" r="8.4"/>
<circle cx="1394.5" cy="704" r="8.4"/>
<circle cx="1406.9" cy="696.5" r="8.4"/>
<circle cx="1419.5" cy="684.5" r="8.4"/>
<circle cx="1432.7" cy="680" r="8.4"/>
<circle cx="1432" cy="684.5" r="8.4"/>
<circle cx="1423" cy="692" r="8.4"/>
<circle cx="1422.2" cy="701" r="8.4"/>
<circle cx="1418.5" cy="705.5" r="8.4"/>
<circle cx="1447" cy="692" r="8.4"/>
<circle cx="1447" cy="696.5" r="8.4"/>
<circle cx="1355.2" cy="719.7" r="8.4"/>
<circle cx="1379.5" cy="721.2" r="8.4"/>
<circle cx="1405" cy="719.7" r="8.4"/>
<circle cx="1447" cy="715.2" r="8.4"/>
<circle cx="1447" cy="722" r="8.4"/>
<circle cx="1449.2" cy="723.5" r="8.4"/>
<circle cx="1338.2" cy="734" r="8.4"/>
<circle cx="1387" cy="734" r="8.4"/>
<circle cx="1391.5" cy="735.5" r="8.4"/>
<circle cx="1421.5" cy="726.5" r="8.4"/>
<circle cx="1415.5" cy="738.5" r="8.4"/>
<circle cx="1427.5" cy="738.5" r="8.4"/>
<circle cx="1446.2" cy="734" r="8.4"/>
<circle cx="1338.2" cy="744.5" r="8.4"/>
<circle cx="1357.7" cy="747.5" r="8.4"/>
<circle cx="1358.5" cy="750.5" r="8.4"/>
<circle cx="1399" cy="741.5" r="8.4"/>
<circle cx="1338.2" cy="760.2" r="8.4"/>
<circle cx="1372" cy="765.5" r="8.4"/>
<circle cx="1382.5" cy="756.5" r="8.4"/>
<circle cx="1390" cy="756.5" r="8.4"/>
<circle cx="1397.5" cy="759.5" r="8.4"/>
<circle cx="1411" cy="755" r="8.4"/>
<circle cx="1423" cy="755" r="8.4"/>
<circle cx="1430.5" cy="750.5" r="8.4"/>
<circle cx="1447" cy="758.7" r="8.4"/>
<circle cx="1351" cy="765.5" r="8.4"/>
<circle cx="1349.5" cy="773" r="8.4"/>
<circle cx="1347.2" cy="780.5" r="8.4"/>
<circle cx="1397.5" cy="777.5" r="8.4"/>
<circle cx="1402" cy="773.7" r="8.4"/>
<circle cx="1427.5" cy="779" r="8.4"/>
<circle cx="1432" cy="771.5" r="8.4"/>
<circle cx="1438" cy="789.5" r="8.4"/>
<circle cx="1366" cy="792.5" r="8.4"/>
<circle cx="1399" cy="793.2" r="8.4"/>
<circle cx="1412.5" cy="792.5" r="8.4"/>
<circle cx="1424.5" cy="764" r="8.4"/>
<circle cx="1340" cy="738" r="8.4"/>
<circle cx="1342" cy="752" r="8.4"/>
<circle cx="1345" cy="770" r="8.4"/>
<circle cx="1350" cy="782" r="8.4"/>
<circle cx="1356" cy="760" r="8.4"/>
<circle cx="1415" cy="745" r="8.4"/>
<circle cx="1420" cy="762" r="8.4"/>
<circle cx="1428" cy="770" r="8.4"/>
<circle cx="1435" cy="783" r="8.4"/>
<circle cx="1442" cy="748" r="8.4"/>
<circle cx="1440" cy="765" r="8.4"/>
<circle cx="1398" cy="747" r="8.4"/>
<circle cx="1405" cy="765" r="8.4"/>
<circle cx="1385" cy="750" r="8.4"/>
<circle cx="1378" cy="742" r="8.4"/>
</g>
<g stroke="#000" stroke-width="2.3" fill="none">
<path d="M1026.6 725.9V736.3M981 725.9H1072.2M981 736.3H1072.2"/>
<path d="M1209.6 719.6V730.3M1163.4 719.6H1255.8M1163.4 730.3H1255.8"/>
<path d="M1393 714.2V726.5M1347.2 714.2H1438.8M1347.2 726.5H1438.8"/>
</g><g fill="#000">
<circle cx="1026.6" cy="731" r="6.5"/>
<circle cx="1209.6" cy="725.4" r="6.5"/>
<circle cx="1393" cy="720.2" r="6.5"/>
</g>
<text class="pl" transform="translate(-2 977) scale(1.250 1)">e</text>
<path class="ax" d="M127.7 966V1336.4H713.7M127.7 1282.2H140.7M127.7 1211.6H140.7M127.7 1140.5H140.7M127.7 1069.6H140.7M127.7 998.6H140.7M237.8 1336.4V1323.4M420.3 1336.4V1323.4M603.9 1336.4V1323.4"/>
<text class="tk" transform="translate(114.8 1290.9) scale(0.940 1)">1</text>
<text class="tk" transform="translate(115.1 1220.3) scale(1.173 1)">2</text>
<text class="tk" transform="translate(115.1 1149.2) scale(1.173 1)">3</text>
<text class="tk" transform="translate(113.9 1078.3) scale(1.075 1)">4</text>
<text class="tk" transform="translate(115.1 1007.3) scale(1.173 1)">5</text>
<text class="yt" transform="translate(73.5 1150.8) rotate(-90) scale(0.980 1)">Growth rate (% day<tspan font-size="19" dy="-12">−1</tspan><tspan dy="12">)</tspan></text>
<text class="xl" transform="translate(237.8 1370) scale(1.028 1)">Down</text>
<text class="xl" transform="translate(420.3 1370) scale(1.083 1)">Control</text>
<text class="xl" transform="translate(603.9 1370) scale(1.028 1)">Up</text>
<g class="D">
<circle cx="192.8" cy="1030.8" r="8.4"/>
<circle cx="241" cy="1042.4" r="8.4"/>
<circle cx="247.5" cy="1039.3" r="8.4"/>
<circle cx="262.7" cy="1057.3" r="8.4"/>
<circle cx="196.4" cy="1070.8" r="8.4"/>
<circle cx="292.3" cy="1085.8" r="8.4"/>
<circle cx="222.4" cy="1105.8" r="8.4"/>
<circle cx="227.7" cy="1111.1" r="8.4"/>
<circle cx="224.1" cy="1118.3" r="8.4"/>
<circle cx="186.3" cy="1119.5" r="8.4"/>
<circle cx="208.4" cy="1126.7" r="8.4"/>
<circle cx="209.6" cy="1130.4" r="8.4"/>
<circle cx="285.5" cy="1128" r="8.4"/>
<circle cx="186.3" cy="1132.8" r="8.4"/>
<circle cx="196.4" cy="1142.4" r="8.4"/>
<circle cx="221.7" cy="1140" r="8.4"/>
<circle cx="213.3" cy="1146" r="8.4"/>
<circle cx="243.9" cy="1134.7" r="8.4"/>
<circle cx="245.3" cy="1146" r="8.4"/>
<circle cx="268.2" cy="1144.8" r="8.4"/>
<circle cx="259" cy="1153.3" r="8.4"/>
<circle cx="281.9" cy="1155.7" r="8.4"/>
<circle cx="273.5" cy="1164.1" r="8.4"/>
<circle cx="200" cy="1158.1" r="8.4"/>
<circle cx="192.8" cy="1164.1" r="8.4"/>
<circle cx="188" cy="1168.9" r="8.4"/>
<circle cx="197.6" cy="1173.7" r="8.4"/>
<circle cx="226.5" cy="1172.5" r="8.4"/>
<circle cx="260.2" cy="1171.3" r="8.4"/>
<circle cx="188" cy="1185.8" r="8.4"/>
<circle cx="221.7" cy="1185.8" r="8.4"/>
<circle cx="236.1" cy="1190.6" r="8.4"/>
<circle cx="250.6" cy="1185.8" r="8.4"/>
<circle cx="265.1" cy="1190.6" r="8.4"/>
<circle cx="274.7" cy="1190.6" r="8.4"/>
<circle cx="288" cy="1193" r="8.4"/>
<circle cx="291.6" cy="1199" r="8.4"/>
<circle cx="224.1" cy="1199" r="8.4"/>
<circle cx="234.9" cy="1197.8" r="8.4"/>
<circle cx="186.7" cy="1207.5" r="8.4"/>
<circle cx="207.2" cy="1207.5" r="8.4"/>
<circle cx="253" cy="1208.7" r="8.4"/>
<circle cx="262.7" cy="1209.9" r="8.4"/>
<circle cx="227.7" cy="1214.7" r="8.4"/>
<circle cx="284.3" cy="1214.7" r="8.4"/>
<circle cx="183.1" cy="1221.9" r="8.4"/>
<circle cx="202.4" cy="1220.7" r="8.4"/>
<circle cx="259" cy="1218.3" r="8.4"/>
<circle cx="269.9" cy="1217.1" r="8.4"/>
<circle cx="224.1" cy="1226.7" r="8.4"/>
<circle cx="241" cy="1225.5" r="8.4"/>
<circle cx="259" cy="1223.1" r="8.4"/>
<circle cx="288" cy="1228" r="8.4"/>
<circle cx="186.7" cy="1229.2" r="8.4"/>
<circle cx="192.8" cy="1235.2" r="8.4"/>
<circle cx="203.6" cy="1238.8" r="8.4"/>
<circle cx="283.1" cy="1232.8" r="8.4"/>
<circle cx="247" cy="1242.4" r="8.4"/>
<circle cx="266.3" cy="1242.4" r="8.4"/>
<circle cx="225.3" cy="1254.5" r="8.4"/>
<circle cx="247" cy="1256.9" r="8.4"/>
<circle cx="257.3" cy="1265.3" r="8.4"/>
<circle cx="190.4" cy="1261" r="8.4"/>
<circle cx="187.5" cy="1273" r="8.4"/>
<circle cx="277.6" cy="1274.9" r="8.4"/>
<circle cx="198.8" cy="1286.3" r="8.4"/>
<circle cx="190" cy="1224" r="8.4"/>
<circle cx="195" cy="1230" r="8.4"/>
<circle cx="200" cy="1215" r="8.4"/>
<circle cx="250" cy="1195" r="8.4"/>
<circle cx="255" cy="1205" r="8.4"/>
<circle cx="262" cy="1220" r="8.4"/>
<circle cx="270" cy="1230" r="8.4"/>
<circle cx="228" cy="1186" r="8.4"/>
<circle cx="240" cy="1180" r="8.4"/>
<circle cx="203" cy="1232" r="8.4"/>
</g>
<g class="C">
<circle cx="414" cy="982.8" r="8.4"/>
<circle cx="450" cy="1018.1" r="8.4"/>
<circle cx="392.2" cy="1031.4" r="8.4"/>
<circle cx="432.6" cy="1032.4" r="8.4"/>
<circle cx="440.1" cy="1065.5" r="8.4"/>
<circle cx="437.7" cy="1073.6" r="8.4"/>
<circle cx="393.5" cy="1083.9" r="8.4"/>
<circle cx="400.5" cy="1083.9" r="8.4"/>
<circle cx="409" cy="1081.9" r="8.4"/>
<circle cx="394.1" cy="1092.8" r="8.4"/>
<circle cx="374.7" cy="1100.7" r="8.4"/>
<circle cx="422.7" cy="1113.2" r="8.4"/>
<circle cx="463.9" cy="1113.2" r="8.4"/>
<circle cx="466.9" cy="1115.6" r="8.4"/>
<circle cx="471.8" cy="1130.4" r="8.4"/>
<circle cx="440.1" cy="1128.5" r="8.4"/>
<circle cx="458.9" cy="1129.5" r="8.4"/>
<circle cx="414.3" cy="1129.5" r="8.4"/>
<circle cx="377.7" cy="1133.4" r="8.4"/>
<circle cx="394.5" cy="1131.4" r="8.4"/>
<circle cx="392.6" cy="1142.3" r="8.4"/>
<circle cx="374.7" cy="1141.3" r="8.4"/>
<circle cx="366.8" cy="1149.3" r="8.4"/>
<circle cx="417.3" cy="1135.4" r="8.4"/>
<circle cx="426.2" cy="1143.3" r="8.4"/>
<circle cx="430.2" cy="1145.3" r="8.4"/>
<circle cx="450" cy="1139.4" r="8.4"/>
<circle cx="450" cy="1145.3" r="8.4"/>
<circle cx="376.7" cy="1161.2" r="8.4"/>
<circle cx="397.5" cy="1165.1" r="8.4"/>
<circle cx="446.1" cy="1160.2" r="8.4"/>
<circle cx="384.6" cy="1173" r="8.4"/>
<circle cx="416.3" cy="1173" r="8.4"/>
<circle cx="428.2" cy="1179" r="8.4"/>
<circle cx="448" cy="1175" r="8.4"/>
<circle cx="370.8" cy="1186.9" r="8.4"/>
<circle cx="378.7" cy="1185" r="8.4"/>
<circle cx="400.5" cy="1190.9" r="8.4"/>
<circle cx="420.3" cy="1185" r="8.4"/>
<circle cx="452" cy="1188.9" r="8.4"/>
<circle cx="472.8" cy="1193.3" r="8.4"/>
<circle cx="381.7" cy="1197.8" r="8.4"/>
<circle cx="394.5" cy="1199.8" r="8.4"/>
<circle cx="390.6" cy="1202.8" r="8.4"/>
<circle cx="418.3" cy="1199.8" r="8.4"/>
<circle cx="443.1" cy="1196.8" r="8.4"/>
<circle cx="433.2" cy="1212.7" r="8.4"/>
<circle cx="398.5" cy="1217.6" r="8.4"/>
<circle cx="395.5" cy="1226.5" r="8.4"/>
<circle cx="418.3" cy="1220.6" r="8.4"/>
<circle cx="452" cy="1216.6" r="8.4"/>
<circle cx="463.9" cy="1222.6" r="8.4"/>
<circle cx="455" cy="1226.5" r="8.4"/>
<circle cx="467.8" cy="1231.5" r="8.4"/>
<circle cx="413.4" cy="1234.5" r="8.4"/>
<circle cx="425.2" cy="1232.5" r="8.4"/>
<circle cx="455.6" cy="1320.3" r="8.4"/>
<circle cx="410.4" cy="1183" r="8.4"/>
<circle cx="436.1" cy="1181" r="8.4"/>
<circle cx="372" cy="1140" r="8.4"/>
<circle cx="378" cy="1150" r="8.4"/>
<circle cx="385" cy="1160" r="8.4"/>
<circle cx="395" cy="1175" r="8.4"/>
<circle cx="380" cy="1190" r="8.4"/>
<circle cx="445" cy="1190" r="8.4"/>
<circle cx="452" cy="1200" r="8.4"/>
<circle cx="440" cy="1215" r="8.4"/>
<circle cx="425" cy="1160" r="8.4"/>
<circle cx="405" cy="1150" r="8.4"/>
</g>
<g class="U">
<circle cx="602.3" cy="1012.3" r="8.4"/>
<circle cx="577.4" cy="1061.6" r="8.4"/>
<circle cx="563.7" cy="1067.3" r="8.4"/>
<circle cx="569.3" cy="1068.1" r="8.4"/>
<circle cx="563.7" cy="1074.5" r="8.4"/>
<circle cx="577.4" cy="1077.7" r="8.4"/>
<circle cx="599.1" cy="1066.1" r="8.4"/>
<circle cx="629.1" cy="1067.3" r="8.4"/>
<circle cx="606.3" cy="1084.1" r="8.4"/>
<circle cx="636" cy="1080.9" r="8.4"/>
<circle cx="648.4" cy="1086.2" r="8.4"/>
<circle cx="556.5" cy="1090.6" r="8.4"/>
<circle cx="557.3" cy="1096.2" r="8.4"/>
<circle cx="558.1" cy="1099.4" r="8.4"/>
<circle cx="571.8" cy="1096.5" r="8.4"/>
<circle cx="583.8" cy="1100.2" r="8.4"/>
<circle cx="640.8" cy="1105.3" r="8.4"/>
<circle cx="549" cy="1117.9" r="8.4"/>
<circle cx="595" cy="1114.6" r="8.4"/>
<circle cx="600.7" cy="1113.8" r="8.4"/>
<circle cx="609.5" cy="1109" r="8.4"/>
<circle cx="617.5" cy="1108.2" r="8.4"/>
<circle cx="616.7" cy="1115.4" r="8.4"/>
<circle cx="611.9" cy="1123.5" r="8.4"/>
<circle cx="635.2" cy="1119.5" r="8.4"/>
<circle cx="639.2" cy="1122.7" r="8.4"/>
<circle cx="641.6" cy="1123.5" r="8.4"/>
<circle cx="555.7" cy="1133.9" r="8.4"/>
<circle cx="554.1" cy="1137.9" r="8.4"/>
<circle cx="572.1" cy="1133.1" r="8.4"/>
<circle cx="597.4" cy="1133.1" r="8.4"/>
<circle cx="598.3" cy="1137.9" r="8.4"/>
<circle cx="612.7" cy="1135.5" r="8.4"/>
<circle cx="636.8" cy="1137.1" r="8.4"/>
<circle cx="658.5" cy="1142.7" r="8.4"/>
<circle cx="655.3" cy="1153.2" r="8.4"/>
<circle cx="571.8" cy="1149.2" r="8.4"/>
<circle cx="569.3" cy="1164.4" r="8.4"/>
<circle cx="581.4" cy="1165.2" r="8.4"/>
<circle cx="580.6" cy="1170" r="8.4"/>
<circle cx="600.7" cy="1159.6" r="8.4"/>
<circle cx="600.7" cy="1163.6" r="8.4"/>
<circle cx="621.5" cy="1158.8" r="8.4"/>
<circle cx="627.2" cy="1164.4" r="8.4"/>
<circle cx="624.7" cy="1174.1" r="8.4"/>
<circle cx="649.6" cy="1174.1" r="8.4"/>
<circle cx="553.3" cy="1174.9" r="8.4"/>
<circle cx="554.1" cy="1182.1" r="8.4"/>
<circle cx="577.4" cy="1182.9" r="8.4"/>
<circle cx="600.7" cy="1180.5" r="8.4"/>
<circle cx="602.3" cy="1188.5" r="8.4"/>
<circle cx="575.8" cy="1195.7" r="8.4"/>
<circle cx="552.5" cy="1199.8" r="8.4"/>
<circle cx="630.9" cy="1198.1" r="8.4"/>
<circle cx="620.7" cy="1207" r="8.4"/>
<circle cx="604.2" cy="1206.2" r="8.4"/>
<circle cx="563.7" cy="1209.4" r="8.4"/>
<circle cx="573.4" cy="1211" r="8.4"/>
<circle cx="548.5" cy="1214.2" r="8.4"/>
<circle cx="556.5" cy="1221.4" r="8.4"/>
<circle cx="599.1" cy="1219.5" r="8.4"/>
<circle cx="645.1" cy="1228.7" r="8.4"/>
<circle cx="623.9" cy="1245.5" r="8.4"/>
<circle cx="656.9" cy="1275.2" r="8.4"/>
<circle cx="572" cy="1162" r="8.4"/>
<circle cx="585" cy="1168" r="8.4"/>
<circle cx="600" cy="1170" r="8.4"/>
<circle cx="560" cy="1100" r="8.4"/>
<circle cx="612" cy="1120" r="8.4"/>
<circle cx="625" cy="1112" r="8.4"/>
<circle cx="633" cy="1130" r="8.4"/>
</g>
<g stroke="#000" stroke-width="2.5" fill="none">
<path d="M237.3 1175.7V1188.2M191.1 1175.7H283.5M191.1 1188.2H283.5"/>
<path d="M420.3 1153.2V1166.1M374.3 1153.2H466.3M374.3 1166.1H466.3"/>
<path d="M603.8 1138.4V1150.8M558 1138.4H649.6M558 1150.8H649.6"/>
</g><g fill="#000">
<circle cx="237.3" cy="1182.2" r="6.5"/>
<circle cx="420.3" cy="1159.2" r="6.5"/>
<circle cx="603.8" cy="1144.7" r="6.5"/>
</g>
<text class="pl" transform="translate(780.6 975.4) scale(1.208 1)">f</text>
<path class="ax" d="M916.5 966.3V1337H1503M916.5 1237.2H929.5M916.5 1136.4H929.5M916.5 1036.4H929.5"/>
<text class="tk" transform="translate(904.2 1345.7) scale(1.173 1)">0</text>
<text class="tk" transform="translate(904.4 1245.9) scale(1.043 1)">10</text>
<text class="tk" transform="translate(904.5 1145.1) scale(1.146 1)">20</text>
<text class="tk" transform="translate(904.5 1045.1) scale(1.146 1)">30</text>
<text class="yt" transform="translate(853.5 1152) rotate(-90) scale(1.006 1)">Maximum swim speed (bl s<tspan font-size="19" dy="-12">−1</tspan><tspan dy="12">)</tspan></text>
<text class="xt" transform="translate(1075.9 1369.2) scale(1.075 1)">28</text>
<text class="xt" transform="translate(1343 1369.2) scale(1.060 1)">34</text>
<text class="xl" transform="translate(1210.2 1411.4) scale(1.006 1)">Temperature (°C)</text>
<g class="D">
<circle cx="993.2" cy="1085.2" r="8.4"/>
<circle cx="1002.3" cy="1086.2" r="8.4"/>
<circle cx="1008.9" cy="1089.6" r="8.4"/>
<circle cx="991.8" cy="1121.1" r="8.4"/>
<circle cx="1028.6" cy="1125.1" r="8.4"/>
<circle cx="1015.5" cy="1133" r="8.4"/>
<circle cx="1001" cy="1143.5" r="8.4"/>
<circle cx="993.2" cy="1148.7" r="8.4"/>
<circle cx="979.2" cy="1148.2" r="8.4"/>
<circle cx="1031.2" cy="1165" r="8.4"/>
<circle cx="1018.1" cy="1176.3" r="8.4"/>
<circle cx="1032" cy="1178.9" r="8.4"/>
<circle cx="995.8" cy="1189.4" r="8.4"/>
<circle cx="984.8" cy="1203.3" r="8.4"/>
<circle cx="1028.1" cy="1201.8" r="8.4"/>
<circle cx="1011.5" cy="1210.4" r="8.4"/>
<circle cx="1007.6" cy="1215.7" r="8.4"/>
<circle cx="1020.7" cy="1214.4" r="8.4"/>
<circle cx="981.3" cy="1222.2" r="8.4"/>
<circle cx="990.5" cy="1230.1" r="8.4"/>
<circle cx="1026.8" cy="1235.4" r="8.4"/>
<circle cx="988.7" cy="1243.2" r="8.4"/>
<circle cx="993.7" cy="1256.4" r="8.4"/>
<circle cx="1000.5" cy="1259" r="8.4"/>
<circle cx="1022.6" cy="1293.6" r="8.4"/>
<circle cx="1005.8" cy="1309.4" r="8.4"/>
<circle cx="1026" cy="1308.3" r="8.4"/>
<circle cx="1270.7" cy="1057.3" r="8.4"/>
<circle cx="1276.5" cy="1056.4" r="8.4"/>
<circle cx="1273.2" cy="1111.2" r="8.4"/>
<circle cx="1272.8" cy="1127.5" r="8.4"/>
<circle cx="1290.1" cy="1126.2" r="8.4"/>
<circle cx="1275.7" cy="1146.9" r="8.4"/>
<circle cx="1261" cy="1156.9" r="8.4"/>
<circle cx="1280.3" cy="1160.2" r="8.4"/>
<circle cx="1256.6" cy="1198.4" r="8.4"/>
<circle cx="1290.6" cy="1195.1" r="8.4"/>
<circle cx="1292.7" cy="1196.7" r="8.4"/>
<circle cx="1248.3" cy="1210" r="8.4"/>
<circle cx="1253.2" cy="1213.3" r="8.4"/>
<circle cx="1296.4" cy="1222.9" r="8.4"/>
<circle cx="1286.9" cy="1229.4" r="8.4"/>
<circle cx="1261.9" cy="1237.7" r="8.4"/>
<circle cx="1294.4" cy="1243.2" r="8.4"/>
<circle cx="1279" cy="1267.3" r="8.4"/>
<circle cx="1284.8" cy="1285.5" r="8.4"/>
<circle cx="1294.4" cy="1287.7" r="8.4"/>
</g>
<g class="C">
<circle cx="1070" cy="1025.7" r="8.4"/>
<circle cx="1060" cy="1047.2" r="8.4"/>
<circle cx="1094.2" cy="1039.2" r="8.4"/>
<circle cx="1095.7" cy="1050.5" r="8.4"/>
<circle cx="1102.7" cy="1059.5" r="8.4"/>
<circle cx="1078.7" cy="1068.5" r="8.4"/>
<circle cx="1084" cy="1071.5" r="8.4"/>
<circle cx="1093.7" cy="1070.7" r="8.4"/>
<circle cx="1101.7" cy="1076" r="8.4"/>
<circle cx="1053.2" cy="1082" r="8.4"/>
<circle cx="1060" cy="1086.5" r="8.4"/>
<circle cx="1068.2" cy="1084.2" r="8.4"/>
<circle cx="1077.2" cy="1082.7" r="8.4"/>
<circle cx="1089.2" cy="1082.7" r="8.4"/>
<circle cx="1054" cy="1096.2" r="8.4"/>
<circle cx="1054.7" cy="1100.7" r="8.4"/>
<circle cx="1057.7" cy="1105.2" r="8.4"/>
<circle cx="1076.5" cy="1119.5" r="8.4"/>
<circle cx="1093.7" cy="1121" r="8.4"/>
<circle cx="1092.2" cy="1127" r="8.4"/>
<circle cx="1099" cy="1127.7" r="8.4"/>
<circle cx="1065.5" cy="1147.7" r="8.4"/>
<circle cx="1089.2" cy="1142.7" r="8.4"/>
<circle cx="1059.2" cy="1174.9" r="8.4"/>
<circle cx="1058.5" cy="1180.2" r="8.4"/>
<circle cx="1076.5" cy="1193.7" r="8.4"/>
<circle cx="1089.2" cy="1194.4" r="8.4"/>
<circle cx="1078.3" cy="1270.2" r="8.4"/>
<circle cx="1367" cy="1015.8" r="8.4"/>
<circle cx="1327.9" cy="1032.4" r="8.4"/>
<circle cx="1327.9" cy="1035.7" r="8.4"/>
<circle cx="1342.1" cy="1028.2" r="8.4"/>
<circle cx="1340.4" cy="1033.2" r="8.4"/>
<circle cx="1354.8" cy="1035.7" r="8.4"/>
<circle cx="1367.8" cy="1041" r="8.4"/>
<circle cx="1329.6" cy="1068.1" r="8.4"/>
<circle cx="1333.8" cy="1066.4" r="8.4"/>
<circle cx="1338.2" cy="1072.2" r="8.4"/>
<circle cx="1337.9" cy="1083" r="8.4"/>
<circle cx="1362.8" cy="1097.9" r="8.4"/>
<circle cx="1357.8" cy="1102.9" r="8.4"/>
<circle cx="1359.5" cy="1108.7" r="8.4"/>
<circle cx="1363.6" cy="1117.9" r="8.4"/>
<circle cx="1319.1" cy="1113.7" r="8.4"/>
<circle cx="1340.1" cy="1131.6" r="8.4"/>
<circle cx="1355.7" cy="1131.6" r="8.4"/>
<circle cx="1364.1" cy="1153.6" r="8.4"/>
<circle cx="1337.1" cy="1164.3" r="8.4"/>
<circle cx="1349.5" cy="1166.8" r="8.4"/>
<circle cx="1329.1" cy="1175.5" r="8.4"/>
<circle cx="1357.5" cy="1179.8" r="8.4"/>
<circle cx="1367" cy="1190.1" r="8.4"/>
<circle cx="1318" cy="1200.9" r="8.4"/>
<circle cx="1330.1" cy="1198.7" r="8.4"/>
<circle cx="1328.4" cy="1225.8" r="8.4"/>
</g>
<g class="U">
<circle cx="1135.7" cy="1021.2" r="8.4"/>
<circle cx="1125.5" cy="1032.2" r="8.4"/>
<circle cx="1146.2" cy="1040.7" r="8.4"/>
<circle cx="1126" cy="1068" r="8.4"/>
<circle cx="1140.2" cy="1077.5" r="8.4"/>
<circle cx="1150" cy="1073.3" r="8.4"/>
<circle cx="1135" cy="1100" r="8.4"/>
<circle cx="1158.2" cy="1097.7" r="8.4"/>
<circle cx="1166.8" cy="1092.5" r="8.4"/>
<circle cx="1171" cy="1103" r="8.4"/>
<circle cx="1167.7" cy="1111.2" r="8.4"/>
<circle cx="1139.5" cy="1116.5" r="8.4"/>
<circle cx="1123" cy="1123.2" r="8.4"/>
<circle cx="1124.2" cy="1145.7" r="8.4"/>
<circle cx="1151.8" cy="1143.5" r="8.4"/>
<circle cx="1123" cy="1161.4" r="8.4"/>
<circle cx="1141.7" cy="1157.7" r="8.4"/>
<circle cx="1141.7" cy="1161.4" r="8.4"/>
<circle cx="1151.8" cy="1163" r="8.4"/>
<circle cx="1168" cy="1161.4" r="8.4"/>
<circle cx="1165.7" cy="1169.7" r="8.4"/>
<circle cx="1131.7" cy="1170.4" r="8.4"/>
<circle cx="1147" cy="1186.9" r="8.4"/>
<circle cx="1168" cy="1233.4" r="8.4"/>
<circle cx="1394.6" cy="1031.4" r="8.4"/>
<circle cx="1438" cy="1032" r="8.4"/>
<circle cx="1430.5" cy="1051.7" r="8.4"/>
<circle cx="1388.8" cy="1060.4" r="8.4"/>
<circle cx="1403" cy="1059.9" r="8.4"/>
<circle cx="1403.6" cy="1067.2" r="8.4"/>
<circle cx="1412" cy="1075.1" r="8.4"/>
<circle cx="1413.1" cy="1077.3" r="8.4"/>
<circle cx="1430.5" cy="1078.7" r="8.4"/>
<circle cx="1408.4" cy="1084.5" r="8.4"/>
<circle cx="1402.6" cy="1089.3" r="8.4"/>
<circle cx="1408.4" cy="1088.9" r="8.4"/>
<circle cx="1419.9" cy="1099" r="8.4"/>
<circle cx="1424.3" cy="1099.7" r="8.4"/>
<circle cx="1429.3" cy="1097.6" r="8.4"/>
<circle cx="1439.5" cy="1113.2" r="8.4"/>
<circle cx="1425.4" cy="1135.9" r="8.4"/>
<circle cx="1397.8" cy="1142.9" r="8.4"/>
<circle cx="1440.2" cy="1148.9" r="8.4"/>
<circle cx="1423.5" cy="1155.4" r="8.4"/>
<circle cx="1411.2" cy="1188" r="8.4"/>
<circle cx="1425.4" cy="1207.5" r="8.4"/>
<circle cx="1400.8" cy="1236.5" r="8.4"/>
<circle cx="1411" cy="1248.8" r="8.4"/>
<circle cx="1397.8" cy="1258.6" r="8.4"/>
</g>
<g stroke="#000" stroke-width="2.2" fill="none">
<path d="M1005.5 1180V1204.6M983.5 1180H1027.5M983.5 1204.6H1027.5"/>
<path d="M1076.5 1097.7V1119M1054.3 1097.7H1098.7M1054.3 1119H1098.7"/>
<path d="M1147.6 1110.8V1131.8M1125.3 1110.8H1169.9M1125.3 1131.8H1169.9"/>
<path d="M1271.8 1174.3V1201.7M1249.6 1174.3H1294M1249.6 1201.7H1294"/>
<path d="M1342.9 1098.3V1122.3M1321.1 1098.3H1364.7M1321.1 1122.3H1364.7"/>
<path d="M1413.9 1104.4V1130.5M1391.7 1104.4H1436.1M1391.7 1130.5H1436.1"/>
</g><g fill="#000">
<circle cx="1005.5" cy="1192.8" r="6.6"/>
<circle cx="1076.5" cy="1108.2" r="6.6"/>
<circle cx="1147.6" cy="1121.3" r="6.6"/>
<circle cx="1271.8" cy="1188.1" r="6.6"/>
<circle cx="1342.9" cy="1110.1" r="6.6"/>
<circle cx="1413.9" cy="1117.4" r="6.6"/>
</g>
<text class="pl" transform="translate(-1.5 1463.5) scale(1.168 1)">g</text>
<path class="ax" d="M127.7 1457.1V1827.8H713.7M127.7 1740.9H140.7M127.7 1653.5H140.7M127.7 1566.1H140.7M127.7 1478.7H140.7M237.5 1827.8V1814.8M420.8 1827.8V1814.8M604 1827.8V1814.8"/>
<text class="tk" transform="translate(115.2 1836.5) scale(1.146 1)">20</text>
<text class="tk" transform="translate(114.1 1749.6) scale(1.100 1)">24</text>
<text class="tk" transform="translate(115.2 1662.2) scale(1.146 1)">28</text>
<text class="tk" transform="translate(115.2 1574.8) scale(1.146 1)">32</text>
<text class="tk" transform="translate(115.2 1487.4) scale(1.146 1)">36</text>
<text class="yt" transform="translate(62.7 1643.3) rotate(-90) scale(1.018 1)">Thermal preference (°C)</text>
<text class="xl" transform="translate(237.5 1861.8) scale(1.028 1)">Down</text>
<text class="xl" transform="translate(420.8 1861.8) scale(1.083 1)">Control</text>
<text class="xl" transform="translate(604 1861.8) scale(1.028 1)">Up</text>
<g class="D">
<circle cx="210" cy="1539.7" r="8.4"/>
<circle cx="216.7" cy="1548.8" r="8.4"/>
<circle cx="195.2" cy="1555.3" r="8.4"/>
<circle cx="248.6" cy="1553.6" r="8.4"/>
<circle cx="267.7" cy="1542.4" r="8.4"/>
<circle cx="277.8" cy="1572.1" r="8.4"/>
<circle cx="220.3" cy="1585.7" r="8.4"/>
<circle cx="252.6" cy="1585.2" r="8.4"/>
<circle cx="190.9" cy="1590" r="8.4"/>
<circle cx="198" cy="1591.9" r="8.4"/>
<circle cx="267.7" cy="1603.9" r="8.4"/>
<circle cx="194.4" cy="1615.2" r="8.4"/>
<circle cx="244.3" cy="1621.1" r="8.4"/>
<circle cx="192" cy="1625.5" r="8.4"/>
<circle cx="182.5" cy="1639.8" r="8.4"/>
<circle cx="232.3" cy="1658.3" r="8.4"/>
<circle cx="223.9" cy="1670.2" r="8.4"/>
<circle cx="234" cy="1680.5" r="8.4"/>
<circle cx="186.3" cy="1707.4" r="8.4"/>
<circle cx="229.9" cy="1702.1" r="8.4"/>
<circle cx="201.1" cy="1755.2" r="8.4"/>
<circle cx="283.8" cy="1757.6" r="8.4"/>
</g>
<g class="C">
<circle cx="412.9" cy="1548.6" r="8.4"/>
<circle cx="367.1" cy="1561.8" r="8.4"/>
<circle cx="383" cy="1559.3" r="8.4"/>
<circle cx="371.7" cy="1567.2" r="8.4"/>
<circle cx="375.5" cy="1576.9" r="8.4"/>
<circle cx="393.8" cy="1583.3" r="8.4"/>
<circle cx="442.9" cy="1560.4" r="8.4"/>
<circle cx="459.2" cy="1560.6" r="8.4"/>
<circle cx="466" cy="1561.5" r="8.4"/>
<circle cx="473" cy="1576.9" r="8.4"/>
<circle cx="371.7" cy="1603.6" r="8.4"/>
<circle cx="452.7" cy="1602.9" r="8.4"/>
<circle cx="440.2" cy="1611.3" r="8.4"/>
<circle cx="465.1" cy="1613.8" r="8.4"/>
<circle cx="369.4" cy="1631.2" r="8.4"/>
<circle cx="378.9" cy="1636.4" r="8.4"/>
<circle cx="441.8" cy="1636.9" r="8.4"/>
<circle cx="474.6" cy="1638.7" r="8.4"/>
<circle cx="467.1" cy="1644.8" r="8.4"/>
<circle cx="396.6" cy="1643.7" r="8.4"/>
<circle cx="393.6" cy="1653.8" r="8.4"/>
<circle cx="404.5" cy="1659.5" r="8.4"/>
<circle cx="406.1" cy="1667.4" r="8.4"/>
<circle cx="443.6" cy="1695.2" r="8.4"/>
<circle cx="463.3" cy="1695.2" r="8.4"/>
<circle cx="467.8" cy="1762.4" r="8.4"/>
</g>
<g class="U">
<circle cx="558.3" cy="1533.5" r="8.4"/>
<circle cx="556.5" cy="1550.2" r="8.4"/>
<circle cx="622.4" cy="1543.4" r="8.4"/>
<circle cx="616" cy="1548.2" r="8.4"/>
<circle cx="641.6" cy="1547.1" r="8.4"/>
<circle cx="630.7" cy="1558.4" r="8.4"/>
<circle cx="625.7" cy="1568.3" r="8.4"/>
<circle cx="593.8" cy="1583.7" r="8.4"/>
<circle cx="635.2" cy="1587.1" r="8.4"/>
<circle cx="645.9" cy="1595.5" r="8.4"/>
<circle cx="599.7" cy="1598.9" r="8.4"/>
<circle cx="608.8" cy="1609.7" r="8.4"/>
<circle cx="634.1" cy="1610.2" r="8.4"/>
<circle cx="578.2" cy="1622.9" r="8.4"/>
<circle cx="580.3" cy="1629" r="8.4"/>
<circle cx="589.3" cy="1629.6" r="8.4"/>
<circle cx="561.7" cy="1633.9" r="8.4"/>
<circle cx="585.9" cy="1641.4" r="8.4"/>
<circle cx="569" cy="1662.2" r="8.4"/>
<circle cx="597.2" cy="1666.7" r="8.4"/>
<circle cx="588.2" cy="1690.7" r="8.4"/>
<circle cx="577.6" cy="1724" r="8.4"/>
</g>
<g stroke="#000" stroke-width="2.2" fill="none">
<path d="M237.5 1608.7V1637.4M191.6 1608.7H283.4M191.6 1637.4H283.4"/>
<path d="M420.9 1607V1627.8M375.1 1607H466.7M375.1 1627.8H466.7"/>
<path d="M604 1595.5V1616.5M558.4 1595.5H649.6M558.4 1616.5H649.6"/>
</g><g fill="#000">
<circle cx="237.5" cy="1623.1" r="6.6"/>
<circle cx="420.9" cy="1617.2" r="6.6"/>
<circle cx="604" cy="1605.7" r="6.6"/>
</g>
<text class="pl" transform="translate(777.7 1465.2) scale(1.244 1)">h</text>
<path class="ax" d="M916.5 1457.2V1827.7H1503M916.5 1736.2H929.5M916.5 1606H929.5M916.5 1475.2H929.5"/>
<text class="tk" transform="translate(904.3 1744.9) scale(0.987 1)">1.0</text>
<text class="tk" transform="translate(904.3 1614.7) scale(0.987 1)">1.5</text>
<text class="tk" transform="translate(904.5 1483.9) scale(1.068 1)">2.0</text>
<text class="yt" transform="translate(850.1 1643.2) rotate(-90) scale(1.003 1)">HSP70 expression in brain</text>
<text class="xl" transform="translate(1076.4 1861.8) scale(0.996 1)">Baseline</text>
<text class="xl" transform="translate(1342.7 1861.8) scale(0.999 1)">Heat shock</text>
<g class="D">
<circle cx="1010.3" cy="1594.5" r="8.4"/>
<circle cx="1003.2" cy="1619.7" r="8.4"/>
<circle cx="981.1" cy="1661.8" r="8.4"/>
<circle cx="981.7" cy="1669.5" r="8.4"/>
<circle cx="1004.6" cy="1678.9" r="8.4"/>
<circle cx="999.7" cy="1706.1" r="8.4"/>
<circle cx="1004.6" cy="1709" r="8.4"/>
<circle cx="1009.8" cy="1713.3" r="8.4"/>
<circle cx="991.2" cy="1726.7" r="8.4"/>
<circle cx="981.7" cy="1732.4" r="8.4"/>
<circle cx="1002.3" cy="1748.4" r="8.4"/>
<circle cx="1004.6" cy="1749.9" r="8.4"/>
<circle cx="1288.8" cy="1567.4" r="8.4"/>
<circle cx="1276.2" cy="1576.8" r="8.4"/>
<circle cx="1250.3" cy="1601.7" r="8.4"/>
<circle cx="1281.2" cy="1609.3" r="8.4"/>
<circle cx="1245.3" cy="1616.6" r="8.4"/>
<circle cx="1269.8" cy="1618.9" r="8.4"/>
<circle cx="1269.3" cy="1623" r="8.4"/>
<circle cx="1269.8" cy="1626.5" r="8.4"/>
<circle cx="1283.5" cy="1636.3" r="8.4"/>
</g>
<g class="C">
<circle cx="1062.7" cy="1669.5" r="8.4"/>
<circle cx="1059.5" cy="1681.2" r="8.4"/>
<circle cx="1074.7" cy="1704.7" r="8.4"/>
<circle cx="1051.2" cy="1711.8" r="8.4"/>
<circle cx="1069" cy="1731.9" r="8.4"/>
<circle cx="1051.8" cy="1742.4" r="8.4"/>
<circle cx="1063.8" cy="1750.5" r="8.4"/>
<circle cx="1077" cy="1759" r="8.4"/>
<circle cx="1092.7" cy="1757.6" r="8.4"/>
<circle cx="1053.8" cy="1781.1" r="8.4"/>
<circle cx="1092.7" cy="1811.1" r="8.4"/>
<circle cx="1330.9" cy="1482.3" r="8.4"/>
<circle cx="1360.8" cy="1492.2" r="8.4"/>
<circle cx="1333.8" cy="1534.9" r="8.4"/>
<circle cx="1351" cy="1548.7" r="8.4"/>
<circle cx="1324.2" cy="1562.4" r="8.4"/>
<circle cx="1352.8" cy="1588.7" r="8.4"/>
<circle cx="1345.7" cy="1596.7" r="8.4"/>
<circle cx="1329.9" cy="1615.5" r="8.4"/>
<circle cx="1339.1" cy="1615.7" r="8.4"/>
<circle cx="1346.9" cy="1637.2" r="8.4"/>
<circle cx="1343.7" cy="1650" r="8.4"/>
<circle cx="1351" cy="1648.6" r="8.4"/>
<circle cx="1321.7" cy="1715.2" r="8.4"/>
</g>
<g class="U">
<circle cx="1170.5" cy="1570.8" r="8.4"/>
<circle cx="1135.6" cy="1581.1" r="8.4"/>
<circle cx="1153.9" cy="1618.8" r="8.4"/>
<circle cx="1128.2" cy="1650.3" r="8.4"/>
<circle cx="1146.8" cy="1658.9" r="8.4"/>
<circle cx="1159.1" cy="1671.2" r="8.4"/>
<circle cx="1156.2" cy="1683.2" r="8.4"/>
<circle cx="1135.4" cy="1738.2" r="8.4"/>
<circle cx="1140.5" cy="1747.6" r="8.4"/>
<circle cx="1170.5" cy="1760.5" r="8.4"/>
<circle cx="1136.8" cy="1775.6" r="8.4"/>
<circle cx="1164" cy="1796.2" r="8.4"/>
<circle cx="1410" cy="1473.9" r="8.4"/>
<circle cx="1436.3" cy="1474.3" r="8.4"/>
<circle cx="1428.3" cy="1521.2" r="8.4"/>
<circle cx="1412.1" cy="1530.4" r="8.4"/>
<circle cx="1439.8" cy="1583" r="8.4"/>
<circle cx="1421.9" cy="1592.8" r="8.4"/>
<circle cx="1388.7" cy="1663.1" r="8.4"/>
<circle cx="1410.5" cy="1666" r="8.4"/>
<circle cx="1427.6" cy="1663.1" r="8.4"/>
<circle cx="1403.6" cy="1726" r="8.4"/>
<circle cx="1416.9" cy="1744.7" r="8.4"/>
<circle cx="1399" cy="1768.8" r="8.4"/>
</g>
<g stroke="#000" stroke-width="2.2" fill="none">
<path d="M1005.2 1678.6V1706.7M983.3 1678.6H1027.1M983.3 1706.7H1027.1"/>
<path d="M1076.3 1723.3V1749M1054.5 1723.3H1098.1M1054.5 1749H1098.1"/>
<path d="M1147.5 1666.1V1709.8M1125.3 1666.1H1169.7M1125.3 1709.8H1169.7"/>
<path d="M1271.8 1602V1615.7M1249.8 1602H1293.8M1249.8 1615.7H1293.8"/>
<path d="M1343 1572.7V1609.8M1321.3 1572.7H1364.7M1321.3 1609.8H1364.7"/>
<path d="M1414 1587.6V1647M1392 1587.6H1436M1392 1647H1436"/>
</g><g fill="#000">
<circle cx="1005.2" cy="1692.7" r="6.6"/>
<circle cx="1076.3" cy="1736.2" r="6.6"/>
<circle cx="1147.5" cy="1688.1" r="6.6"/>
<circle cx="1271.8" cy="1608.8" r="6.6"/>
<circle cx="1343" cy="1591.5" r="6.6"/>
<circle cx="1414" cy="1617.3" r="6.6"/>
</g>
</svg></body></html>
